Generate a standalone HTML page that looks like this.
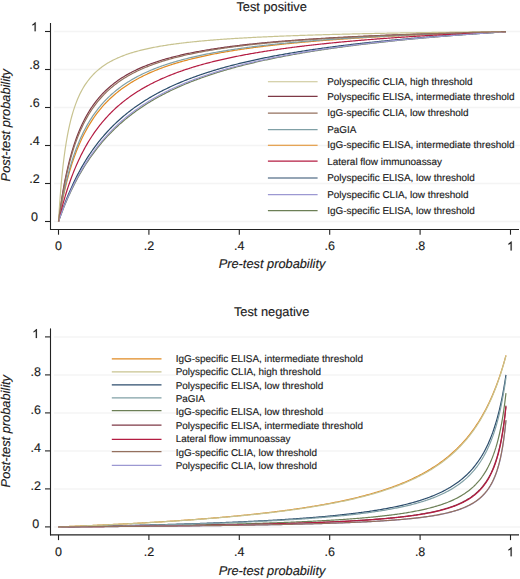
<!DOCTYPE html>
<html><head><meta charset="utf-8"><style>
html,body{margin:0;padding:0;background:#fff;width:520px;height:579px;overflow:hidden}
svg{display:block}
text{font-family:"Liberation Sans", sans-serif;text-rendering:geometricPrecision;fill:#1a1a1a;stroke:#1a1a1a;stroke-width:0.15px}
.t{font-size:12.5px}
.ti{font-size:12.8px}
.ax{font-size:12.8px;font-style:italic}
.lg{font-size:9.95px}
</style></head><body>
<svg width="520" height="579" viewBox="0 0 520 579">
<rect width="520" height="579" fill="#fff"/>
<line x1="54" x2="520" y1="221.50" y2="221.50" stroke="#f4f4f4" stroke-width="1.5"/>
<line x1="54" x2="520" y1="183.50" y2="183.50" stroke="#f4f4f4" stroke-width="1.5"/>
<line x1="54" x2="520" y1="145.50" y2="145.50" stroke="#f4f4f4" stroke-width="1.5"/>
<line x1="54" x2="520" y1="107.50" y2="107.50" stroke="#f4f4f4" stroke-width="1.5"/>
<line x1="54" x2="520" y1="69.50" y2="69.50" stroke="#f4f4f4" stroke-width="1.5"/>
<line x1="54" x2="520" y1="31.50" y2="31.50" stroke="#f4f4f4" stroke-width="1.5"/>
<path d="M58.50,221.50 L59.62,218.07 L60.74,214.75 L61.86,211.53 L62.97,208.41 L64.09,205.38 L65.21,202.43 L66.33,199.57 L67.45,196.79 L68.57,194.09 L69.69,191.46 L70.81,188.90 L71.92,186.41 L73.04,183.99 L74.16,181.62 L75.28,179.32 L76.40,177.08 L77.52,174.89 L78.64,172.76 L79.76,170.68 L80.87,168.65 L81.99,166.66 L83.11,164.73 L84.23,162.84 L85.35,160.99 L86.47,159.18 L87.59,157.42 L88.70,155.69 L89.82,154.00 L90.94,152.35 L92.06,150.73 L93.18,149.15 L94.30,147.60 L95.42,146.09 L96.54,144.60 L97.65,143.15 L98.77,141.72 L99.89,140.32 L101.01,138.95 L102.13,137.61 L103.25,136.29 L104.37,135.00 L105.49,133.73 L106.60,132.49 L107.72,131.27 L108.84,130.07 L109.96,128.90 L111.08,127.75 L112.20,126.61 L113.32,125.50 L114.44,124.41 L115.55,123.33 L116.67,122.28 L117.79,121.24 L118.91,120.22 L120.03,119.22 L121.15,118.23 L122.27,117.26 L123.38,116.31 L124.50,115.37 L125.62,114.45 L126.74,113.54 L127.86,112.65 L128.98,111.77 L130.10,110.91 L131.22,110.05 L132.33,109.22 L133.45,108.39 L134.57,107.58 L135.69,106.78 L136.81,105.99 L137.93,105.21 L139.05,104.45 L140.17,103.69 L141.28,102.95 L142.40,102.22 L143.52,101.50 L144.64,100.79 L145.76,100.08 L146.88,99.39 L148.00,98.71 L149.11,98.04 L150.23,97.38 L151.35,96.72 L152.47,96.08 L153.59,95.44 L154.71,94.81 L155.83,94.19 L156.95,93.58 L158.06,92.98 L159.18,92.38 L160.30,91.80 L161.42,91.22 L162.54,90.64 L163.66,90.08 L164.78,89.52 L165.90,88.97 L167.01,88.42 L168.13,87.89 L169.25,87.36 L170.37,86.83 L171.49,86.31 L172.61,85.80 L173.73,85.30 L174.84,84.80 L175.96,84.30 L177.08,83.81 L178.20,83.33 L179.32,82.86 L180.44,82.39 L181.56,81.92 L182.68,81.46 L183.79,81.01 L184.91,80.56 L186.03,80.11 L187.15,79.67 L188.27,79.24 L189.39,78.81 L190.51,78.38 L191.63,77.96 L192.74,77.55 L193.86,77.13 L194.98,76.73 L196.10,76.33 L197.22,75.93 L198.34,75.53 L199.46,75.14 L200.57,74.76 L201.69,74.38 L202.81,74.00 L203.93,73.62 L205.05,73.25 L206.17,72.89 L207.29,72.53 L208.41,72.17 L209.52,71.81 L210.64,71.46 L211.76,71.11 L212.88,70.77 L214.00,70.43 L215.12,70.09 L216.24,69.75 L217.36,69.42 L218.47,69.10 L219.59,68.77 L220.71,68.45 L221.83,68.13 L222.95,67.81 L224.07,67.50 L225.19,67.19 L226.31,66.89 L227.42,66.58 L228.54,66.28 L229.66,65.98 L230.78,65.69 L231.90,65.39 L233.02,65.10 L234.14,64.82 L235.25,64.53 L236.37,64.25 L237.49,63.97 L238.61,63.69 L239.73,63.42 L240.85,63.14 L241.97,62.87 L243.09,62.61 L244.20,62.34 L245.32,62.08 L246.44,61.82 L247.56,61.56 L248.68,61.30 L249.80,61.05 L250.92,60.80 L252.04,60.55 L253.15,60.30 L254.27,60.05 L255.39,59.81 L256.51,59.57 L257.63,59.33 L258.75,59.09 L259.87,58.86 L260.98,58.62 L262.10,58.39 L263.22,58.16 L264.34,57.93 L265.46,57.71 L266.58,57.48 L267.70,57.26 L268.82,57.04 L269.93,56.82 L271.05,56.60 L272.17,56.39 L273.29,56.17 L274.41,55.96 L275.53,55.75 L276.65,55.54 L277.77,55.33 L278.88,55.13 L280.00,54.92 L281.12,54.72 L282.24,54.52 L283.36,54.32 L284.48,54.12 L285.60,53.93 L286.71,53.73 L287.83,53.54 L288.95,53.35 L290.07,53.15 L291.19,52.97 L292.31,52.78 L293.43,52.59 L294.55,52.41 L295.66,52.22 L296.78,52.04 L297.90,51.86 L299.02,51.68 L300.14,51.50 L301.26,51.32 L302.38,51.15 L303.50,50.97 L304.61,50.80 L305.73,50.63 L306.85,50.45 L307.97,50.28 L309.09,50.12 L310.21,49.95 L311.33,49.78 L312.44,49.62 L313.56,49.45 L314.68,49.29 L315.80,49.13 L316.92,48.97 L318.04,48.81 L319.16,48.65 L320.28,48.49 L321.39,48.33 L322.51,48.18 L323.63,48.02 L324.75,47.87 L325.87,47.72 L326.99,47.57 L328.11,47.42 L329.23,47.27 L330.34,47.12 L331.46,46.97 L332.58,46.82 L333.70,46.68 L334.82,46.53 L335.94,46.39 L337.06,46.25 L338.18,46.10 L339.29,45.96 L340.41,45.82 L341.53,45.68 L342.65,45.55 L343.77,45.41 L344.89,45.27 L346.01,45.14 L347.12,45.00 L348.24,44.87 L349.36,44.73 L350.48,44.60 L351.60,44.47 L352.72,44.34 L353.84,44.21 L354.96,44.08 L356.07,43.95 L357.19,43.82 L358.31,43.70 L359.43,43.57 L360.55,43.45 L361.67,43.32 L362.79,43.20 L363.91,43.07 L365.02,42.95 L366.14,42.83 L367.26,42.71 L368.38,42.59 L369.50,42.47 L370.62,42.35 L371.74,42.23 L372.85,42.11 L373.97,42.00 L375.09,41.88 L376.21,41.77 L377.33,41.65 L378.45,41.54 L379.57,41.42 L380.69,41.31 L381.80,41.20 L382.92,41.09 L384.04,40.98 L385.16,40.87 L386.28,40.76 L387.40,40.65 L388.52,40.54 L389.64,40.43 L390.75,40.32 L391.87,40.22 L392.99,40.11 L394.11,40.01 L395.23,39.90 L396.35,39.80 L397.47,39.69 L398.58,39.59 L399.70,39.49 L400.82,39.38 L401.94,39.28 L403.06,39.18 L404.18,39.08 L405.30,38.98 L406.42,38.88 L407.53,38.78 L408.65,38.69 L409.77,38.59 L410.89,38.49 L412.01,38.39 L413.13,38.30 L414.25,38.20 L415.37,38.11 L416.48,38.01 L417.60,37.92 L418.72,37.82 L419.84,37.73 L420.96,37.64 L422.08,37.55 L423.20,37.45 L424.31,37.36 L425.43,37.27 L426.55,37.18 L427.67,37.09 L428.79,37.00 L429.91,36.91 L431.03,36.82 L432.15,36.74 L433.26,36.65 L434.38,36.56 L435.50,36.47 L436.62,36.39 L437.74,36.30 L438.86,36.22 L439.98,36.13 L441.10,36.05 L442.21,35.96 L443.33,35.88 L444.45,35.79 L445.57,35.71 L446.69,35.63 L447.81,35.55 L448.93,35.46 L450.04,35.38 L451.16,35.30 L452.28,35.22 L453.40,35.14 L454.52,35.06 L455.64,34.98 L456.76,34.90 L457.88,34.82 L458.99,34.75 L460.11,34.67 L461.23,34.59 L462.35,34.51 L463.47,34.44 L464.59,34.36 L465.71,34.28 L466.83,34.21 L467.94,34.13 L469.06,34.06 L470.18,33.98 L471.30,33.91 L472.42,33.83 L473.54,33.76 L474.66,33.69 L475.78,33.61 L476.89,33.54 L478.01,33.47 L479.13,33.40 L480.25,33.32 L481.37,33.25 L482.49,33.18 L483.61,33.11 L484.72,33.04 L485.84,32.97 L486.96,32.90 L488.08,32.83 L489.20,32.76 L490.32,32.69 L491.44,32.62 L492.56,32.56 L493.67,32.49 L494.79,32.42 L495.91,32.35 L497.03,32.29 L498.15,32.22 L499.27,32.15 L500.39,32.09 L501.51,32.02 L502.62,31.95 L503.74,31.89 L504.86,31.82 L505.98,31.76" fill="none" stroke="#2c4d6c" stroke-width="1.2"/>
<path d="M58.50,221.50 L59.62,212.95 L60.74,205.09 L61.86,197.86 L62.97,191.17 L64.09,184.96 L65.21,179.20 L66.33,173.82 L67.45,168.80 L68.57,164.10 L69.69,159.69 L70.81,155.54 L71.92,151.63 L73.04,147.95 L74.16,144.46 L75.28,141.16 L76.40,138.04 L77.52,135.07 L78.64,132.25 L79.76,129.56 L80.87,127.00 L81.99,124.56 L83.11,122.23 L84.23,120.00 L85.35,117.87 L86.47,115.83 L87.59,113.87 L88.70,111.99 L89.82,110.18 L90.94,108.45 L92.06,106.78 L93.18,105.17 L94.30,103.63 L95.42,102.14 L96.54,100.70 L97.65,99.31 L98.77,97.97 L99.89,96.67 L101.01,95.42 L102.13,94.21 L103.25,93.03 L104.37,91.90 L105.49,90.80 L106.60,89.73 L107.72,88.70 L108.84,87.69 L109.96,86.72 L111.08,85.77 L112.20,84.85 L113.32,83.95 L114.44,83.08 L115.55,82.24 L116.67,81.41 L117.79,80.61 L118.91,79.83 L120.03,79.07 L121.15,78.33 L122.27,77.61 L123.38,76.90 L124.50,76.22 L125.62,75.55 L126.74,74.89 L127.86,74.25 L128.98,73.63 L130.10,73.02 L131.22,72.43 L132.33,71.84 L133.45,71.27 L134.57,70.72 L135.69,70.17 L136.81,69.64 L137.93,69.12 L139.05,68.61 L140.17,68.11 L141.28,67.62 L142.40,67.14 L143.52,66.67 L144.64,66.21 L145.76,65.76 L146.88,65.32 L148.00,64.89 L149.11,64.46 L150.23,64.05 L151.35,63.64 L152.47,63.24 L153.59,62.84 L154.71,62.46 L155.83,62.08 L156.95,61.70 L158.06,61.34 L159.18,60.98 L160.30,60.63 L161.42,60.28 L162.54,59.94 L163.66,59.60 L164.78,59.28 L165.90,58.95 L167.01,58.63 L168.13,58.32 L169.25,58.01 L170.37,57.71 L171.49,57.41 L172.61,57.12 L173.73,56.83 L174.84,56.55 L175.96,56.27 L177.08,55.99 L178.20,55.72 L179.32,55.46 L180.44,55.19 L181.56,54.93 L182.68,54.68 L183.79,54.43 L184.91,54.18 L186.03,53.94 L187.15,53.70 L188.27,53.46 L189.39,53.23 L190.51,53.00 L191.63,52.77 L192.74,52.55 L193.86,52.33 L194.98,52.11 L196.10,51.90 L197.22,51.68 L198.34,51.48 L199.46,51.27 L200.57,51.07 L201.69,50.87 L202.81,50.67 L203.93,50.47 L205.05,50.28 L206.17,50.09 L207.29,49.90 L208.41,49.72 L209.52,49.54 L210.64,49.36 L211.76,49.18 L212.88,49.00 L214.00,48.83 L215.12,48.66 L216.24,48.49 L217.36,48.32 L218.47,48.15 L219.59,47.99 L220.71,47.83 L221.83,47.67 L222.95,47.51 L224.07,47.36 L225.19,47.20 L226.31,47.05 L227.42,46.90 L228.54,46.75 L229.66,46.60 L230.78,46.46 L231.90,46.31 L233.02,46.17 L234.14,46.03 L235.25,45.89 L236.37,45.76 L237.49,45.62 L238.61,45.48 L239.73,45.35 L240.85,45.22 L241.97,45.09 L243.09,44.96 L244.20,44.83 L245.32,44.71 L246.44,44.58 L247.56,44.46 L248.68,44.34 L249.80,44.22 L250.92,44.10 L252.04,43.98 L253.15,43.86 L254.27,43.74 L255.39,43.63 L256.51,43.52 L257.63,43.40 L258.75,43.29 L259.87,43.18 L260.98,43.07 L262.10,42.96 L263.22,42.86 L264.34,42.75 L265.46,42.65 L266.58,42.54 L267.70,42.44 L268.82,42.34 L269.93,42.23 L271.05,42.13 L272.17,42.04 L273.29,41.94 L274.41,41.84 L275.53,41.74 L276.65,41.65 L277.77,41.55 L278.88,41.46 L280.00,41.37 L281.12,41.27 L282.24,41.18 L283.36,41.09 L284.48,41.00 L285.60,40.91 L286.71,40.82 L287.83,40.74 L288.95,40.65 L290.07,40.56 L291.19,40.48 L292.31,40.40 L293.43,40.31 L294.55,40.23 L295.66,40.15 L296.78,40.06 L297.90,39.98 L299.02,39.90 L300.14,39.82 L301.26,39.75 L302.38,39.67 L303.50,39.59 L304.61,39.51 L305.73,39.44 L306.85,39.36 L307.97,39.29 L309.09,39.21 L310.21,39.14 L311.33,39.06 L312.44,38.99 L313.56,38.92 L314.68,38.85 L315.80,38.78 L316.92,38.71 L318.04,38.64 L319.16,38.57 L320.28,38.50 L321.39,38.43 L322.51,38.36 L323.63,38.30 L324.75,38.23 L325.87,38.16 L326.99,38.10 L328.11,38.03 L329.23,37.97 L330.34,37.90 L331.46,37.84 L332.58,37.78 L333.70,37.71 L334.82,37.65 L335.94,37.59 L337.06,37.53 L338.18,37.47 L339.29,37.41 L340.41,37.35 L341.53,37.29 L342.65,37.23 L343.77,37.17 L344.89,37.11 L346.01,37.05 L347.12,37.00 L348.24,36.94 L349.36,36.88 L350.48,36.83 L351.60,36.77 L352.72,36.72 L353.84,36.66 L354.96,36.61 L356.07,36.55 L357.19,36.50 L358.31,36.44 L359.43,36.39 L360.55,36.34 L361.67,36.29 L362.79,36.23 L363.91,36.18 L365.02,36.13 L366.14,36.08 L367.26,36.03 L368.38,35.98 L369.50,35.93 L370.62,35.88 L371.74,35.83 L372.85,35.78 L373.97,35.73 L375.09,35.68 L376.21,35.63 L377.33,35.59 L378.45,35.54 L379.57,35.49 L380.69,35.45 L381.80,35.40 L382.92,35.35 L384.04,35.31 L385.16,35.26 L386.28,35.22 L387.40,35.17 L388.52,35.13 L389.64,35.08 L390.75,35.04 L391.87,34.99 L392.99,34.95 L394.11,34.91 L395.23,34.86 L396.35,34.82 L397.47,34.78 L398.58,34.73 L399.70,34.69 L400.82,34.65 L401.94,34.61 L403.06,34.57 L404.18,34.53 L405.30,34.49 L406.42,34.45 L407.53,34.40 L408.65,34.36 L409.77,34.32 L410.89,34.29 L412.01,34.25 L413.13,34.21 L414.25,34.17 L415.37,34.13 L416.48,34.09 L417.60,34.05 L418.72,34.01 L419.84,33.98 L420.96,33.94 L422.08,33.90 L423.20,33.86 L424.31,33.83 L425.43,33.79 L426.55,33.75 L427.67,33.72 L428.79,33.68 L429.91,33.65 L431.03,33.61 L432.15,33.57 L433.26,33.54 L434.38,33.50 L435.50,33.47 L436.62,33.43 L437.74,33.40 L438.86,33.37 L439.98,33.33 L441.10,33.30 L442.21,33.26 L443.33,33.23 L444.45,33.20 L445.57,33.16 L446.69,33.13 L447.81,33.10 L448.93,33.06 L450.04,33.03 L451.16,33.00 L452.28,32.97 L453.40,32.93 L454.52,32.90 L455.64,32.87 L456.76,32.84 L457.88,32.81 L458.99,32.78 L460.11,32.75 L461.23,32.72 L462.35,32.68 L463.47,32.65 L464.59,32.62 L465.71,32.59 L466.83,32.56 L467.94,32.53 L469.06,32.50 L470.18,32.47 L471.30,32.44 L472.42,32.42 L473.54,32.39 L474.66,32.36 L475.78,32.33 L476.89,32.30 L478.01,32.27 L479.13,32.24 L480.25,32.21 L481.37,32.19 L482.49,32.16 L483.61,32.13 L484.72,32.10 L485.84,32.08 L486.96,32.05 L488.08,32.02 L489.20,31.99 L490.32,31.97 L491.44,31.94 L492.56,31.91 L493.67,31.89 L494.79,31.86 L495.91,31.83 L497.03,31.81 L498.15,31.78 L499.27,31.75 L500.39,31.73 L501.51,31.70 L502.62,31.68 L503.74,31.65 L504.86,31.63 L505.98,31.60" fill="none" stroke="#7e3846" stroke-width="1.2"/>
<path d="M58.50,221.50 L59.62,218.39 L60.74,215.37 L61.86,212.43 L62.97,209.57 L64.09,206.78 L65.21,204.07 L66.33,201.43 L67.45,198.85 L68.57,196.34 L69.69,193.89 L70.81,191.50 L71.92,189.17 L73.04,186.89 L74.16,184.67 L75.28,182.49 L76.40,180.37 L77.52,178.30 L78.64,176.27 L79.76,174.29 L80.87,172.35 L81.99,170.46 L83.11,168.60 L84.23,166.79 L85.35,165.01 L86.47,163.27 L87.59,161.57 L88.70,159.90 L89.82,158.26 L90.94,156.66 L92.06,155.09 L93.18,153.55 L94.30,152.04 L95.42,150.56 L96.54,149.10 L97.65,147.68 L98.77,146.28 L99.89,144.91 L101.01,143.56 L102.13,142.23 L103.25,140.94 L104.37,139.66 L105.49,138.41 L106.60,137.17 L107.72,135.96 L108.84,134.78 L109.96,133.61 L111.08,132.46 L112.20,131.33 L113.32,130.22 L114.44,129.13 L115.55,128.05 L116.67,126.99 L117.79,125.95 L118.91,124.93 L120.03,123.92 L121.15,122.93 L122.27,121.96 L123.38,121.00 L124.50,120.05 L125.62,119.12 L126.74,118.20 L127.86,117.30 L128.98,116.41 L130.10,115.53 L131.22,114.67 L132.33,113.82 L133.45,112.98 L134.57,112.15 L135.69,111.34 L136.81,110.53 L137.93,109.74 L139.05,108.96 L140.17,108.19 L141.28,107.43 L142.40,106.68 L143.52,105.94 L144.64,105.22 L145.76,104.50 L146.88,103.79 L148.00,103.09 L149.11,102.40 L150.23,101.71 L151.35,101.04 L152.47,100.38 L153.59,99.72 L154.71,99.07 L155.83,98.44 L156.95,97.80 L158.06,97.18 L159.18,96.57 L160.30,95.96 L161.42,95.36 L162.54,94.76 L163.66,94.18 L164.78,93.60 L165.90,93.03 L167.01,92.46 L168.13,91.90 L169.25,91.35 L170.37,90.81 L171.49,90.27 L172.61,89.74 L173.73,89.21 L174.84,88.69 L175.96,88.17 L177.08,87.66 L178.20,87.16 L179.32,86.66 L180.44,86.17 L181.56,85.69 L182.68,85.20 L183.79,84.73 L184.91,84.26 L186.03,83.79 L187.15,83.33 L188.27,82.88 L189.39,82.43 L190.51,81.98 L191.63,81.54 L192.74,81.10 L193.86,80.67 L194.98,80.24 L196.10,79.82 L197.22,79.40 L198.34,78.98 L199.46,78.57 L200.57,78.17 L201.69,77.76 L202.81,77.37 L203.93,76.97 L205.05,76.58 L206.17,76.20 L207.29,75.81 L208.41,75.43 L209.52,75.06 L210.64,74.69 L211.76,74.32 L212.88,73.95 L214.00,73.59 L215.12,73.24 L216.24,72.88 L217.36,72.53 L218.47,72.18 L219.59,71.84 L220.71,71.50 L221.83,71.16 L222.95,70.82 L224.07,70.49 L225.19,70.16 L226.31,69.84 L227.42,69.51 L228.54,69.19 L229.66,68.88 L230.78,68.56 L231.90,68.25 L233.02,67.94 L234.14,67.64 L235.25,67.33 L236.37,67.03 L237.49,66.73 L238.61,66.44 L239.73,66.14 L240.85,65.85 L241.97,65.57 L243.09,65.28 L244.20,65.00 L245.32,64.72 L246.44,64.44 L247.56,64.16 L248.68,63.89 L249.80,63.61 L250.92,63.35 L252.04,63.08 L253.15,62.81 L254.27,62.55 L255.39,62.29 L256.51,62.03 L257.63,61.77 L258.75,61.52 L259.87,61.27 L260.98,61.02 L262.10,60.77 L263.22,60.52 L264.34,60.28 L265.46,60.03 L266.58,59.79 L267.70,59.55 L268.82,59.32 L269.93,59.08 L271.05,58.85 L272.17,58.62 L273.29,58.39 L274.41,58.16 L275.53,57.93 L276.65,57.71 L277.77,57.48 L278.88,57.26 L280.00,57.04 L281.12,56.82 L282.24,56.61 L283.36,56.39 L284.48,56.18 L285.60,55.97 L286.71,55.76 L287.83,55.55 L288.95,55.34 L290.07,55.14 L291.19,54.93 L292.31,54.73 L293.43,54.53 L294.55,54.33 L295.66,54.13 L296.78,53.93 L297.90,53.74 L299.02,53.54 L300.14,53.35 L301.26,53.16 L302.38,52.97 L303.50,52.78 L304.61,52.59 L305.73,52.40 L306.85,52.22 L307.97,52.03 L309.09,51.85 L310.21,51.67 L311.33,51.49 L312.44,51.31 L313.56,51.13 L314.68,50.96 L315.80,50.78 L316.92,50.61 L318.04,50.43 L319.16,50.26 L320.28,50.09 L321.39,49.92 L322.51,49.75 L323.63,49.58 L324.75,49.42 L325.87,49.25 L326.99,49.09 L328.11,48.93 L329.23,48.76 L330.34,48.60 L331.46,48.44 L332.58,48.28 L333.70,48.12 L334.82,47.97 L335.94,47.81 L337.06,47.66 L338.18,47.50 L339.29,47.35 L340.41,47.20 L341.53,47.04 L342.65,46.89 L343.77,46.74 L344.89,46.60 L346.01,46.45 L347.12,46.30 L348.24,46.16 L349.36,46.01 L350.48,45.87 L351.60,45.72 L352.72,45.58 L353.84,45.44 L354.96,45.30 L356.07,45.16 L357.19,45.02 L358.31,44.88 L359.43,44.74 L360.55,44.61 L361.67,44.47 L362.79,44.34 L363.91,44.20 L365.02,44.07 L366.14,43.94 L367.26,43.80 L368.38,43.67 L369.50,43.54 L370.62,43.41 L371.74,43.28 L372.85,43.16 L373.97,43.03 L375.09,42.90 L376.21,42.78 L377.33,42.65 L378.45,42.53 L379.57,42.40 L380.69,42.28 L381.80,42.16 L382.92,42.03 L384.04,41.91 L385.16,41.79 L386.28,41.67 L387.40,41.55 L388.52,41.43 L389.64,41.32 L390.75,41.20 L391.87,41.08 L392.99,40.97 L394.11,40.85 L395.23,40.74 L396.35,40.62 L397.47,40.51 L398.58,40.40 L399.70,40.28 L400.82,40.17 L401.94,40.06 L403.06,39.95 L404.18,39.84 L405.30,39.73 L406.42,39.62 L407.53,39.51 L408.65,39.41 L409.77,39.30 L410.89,39.19 L412.01,39.09 L413.13,38.98 L414.25,38.87 L415.37,38.77 L416.48,38.67 L417.60,38.56 L418.72,38.46 L419.84,38.36 L420.96,38.26 L422.08,38.16 L423.20,38.05 L424.31,37.95 L425.43,37.85 L426.55,37.76 L427.67,37.66 L428.79,37.56 L429.91,37.46 L431.03,37.36 L432.15,37.27 L433.26,37.17 L434.38,37.07 L435.50,36.98 L436.62,36.88 L437.74,36.79 L438.86,36.70 L439.98,36.60 L441.10,36.51 L442.21,36.42 L443.33,36.32 L444.45,36.23 L445.57,36.14 L446.69,36.05 L447.81,35.96 L448.93,35.87 L450.04,35.78 L451.16,35.69 L452.28,35.60 L453.40,35.51 L454.52,35.43 L455.64,35.34 L456.76,35.25 L457.88,35.16 L458.99,35.08 L460.11,34.99 L461.23,34.91 L462.35,34.82 L463.47,34.74 L464.59,34.65 L465.71,34.57 L466.83,34.49 L467.94,34.40 L469.06,34.32 L470.18,34.24 L471.30,34.16 L472.42,34.07 L473.54,33.99 L474.66,33.91 L475.78,33.83 L476.89,33.75 L478.01,33.67 L479.13,33.59 L480.25,33.51 L481.37,33.43 L482.49,33.36 L483.61,33.28 L484.72,33.20 L485.84,33.12 L486.96,33.05 L488.08,32.97 L489.20,32.89 L490.32,32.82 L491.44,32.74 L492.56,32.67 L493.67,32.59 L494.79,32.52 L495.91,32.44 L497.03,32.37 L498.15,32.29 L499.27,32.22 L500.39,32.15 L501.51,32.07 L502.62,32.00 L503.74,31.93 L504.86,31.86 L505.98,31.79" fill="none" stroke="#6c7f56" stroke-width="1.2"/>
<path d="M58.50,221.50 L59.62,215.03 L60.74,208.96 L61.86,203.26 L62.97,197.88 L64.09,192.80 L65.21,188.00 L66.33,183.46 L67.45,179.15 L68.57,175.06 L69.69,171.17 L70.81,167.47 L71.92,163.94 L73.04,160.57 L74.16,157.35 L75.28,154.28 L76.40,151.34 L77.52,148.52 L78.64,145.81 L79.76,143.22 L80.87,140.73 L81.99,138.33 L83.11,136.03 L84.23,133.81 L85.35,131.67 L86.47,129.61 L87.59,127.62 L88.70,125.71 L89.82,123.85 L90.94,122.06 L92.06,120.33 L93.18,118.65 L94.30,117.03 L95.42,115.46 L96.54,113.94 L97.65,112.46 L98.77,111.03 L99.89,109.64 L101.01,108.29 L102.13,106.98 L103.25,105.71 L104.37,104.47 L105.49,103.27 L106.60,102.10 L107.72,100.96 L108.84,99.85 L109.96,98.77 L111.08,97.72 L112.20,96.69 L113.32,95.69 L114.44,94.72 L115.55,93.77 L116.67,92.84 L117.79,91.93 L118.91,91.05 L120.03,90.19 L121.15,89.34 L122.27,88.52 L123.38,87.71 L124.50,86.92 L125.62,86.15 L126.74,85.40 L127.86,84.66 L128.98,83.94 L130.10,83.23 L131.22,82.54 L132.33,81.87 L133.45,81.20 L134.57,80.55 L135.69,79.91 L136.81,79.29 L137.93,78.68 L139.05,78.08 L140.17,77.49 L141.28,76.91 L142.40,76.35 L143.52,75.79 L144.64,75.25 L145.76,74.71 L146.88,74.18 L148.00,73.67 L149.11,73.16 L150.23,72.66 L151.35,72.17 L152.47,71.69 L153.59,71.22 L154.71,70.76 L155.83,70.30 L156.95,69.85 L158.06,69.41 L159.18,68.98 L160.30,68.55 L161.42,68.13 L162.54,67.72 L163.66,67.31 L164.78,66.91 L165.90,66.52 L167.01,66.13 L168.13,65.75 L169.25,65.38 L170.37,65.01 L171.49,64.64 L172.61,64.28 L173.73,63.93 L174.84,63.58 L175.96,63.24 L177.08,62.90 L178.20,62.57 L179.32,62.24 L180.44,61.92 L181.56,61.60 L182.68,61.29 L183.79,60.98 L184.91,60.67 L186.03,60.37 L187.15,60.07 L188.27,59.78 L189.39,59.49 L190.51,59.21 L191.63,58.92 L192.74,58.65 L193.86,58.37 L194.98,58.10 L196.10,57.83 L197.22,57.57 L198.34,57.31 L199.46,57.05 L200.57,56.80 L201.69,56.55 L202.81,56.30 L203.93,56.06 L205.05,55.82 L206.17,55.58 L207.29,55.35 L208.41,55.11 L209.52,54.88 L210.64,54.66 L211.76,54.43 L212.88,54.21 L214.00,53.99 L215.12,53.78 L216.24,53.56 L217.36,53.35 L218.47,53.14 L219.59,52.94 L220.71,52.73 L221.83,52.53 L222.95,52.33 L224.07,52.13 L225.19,51.94 L226.31,51.75 L227.42,51.56 L228.54,51.37 L229.66,51.18 L230.78,51.00 L231.90,50.81 L233.02,50.63 L234.14,50.45 L235.25,50.28 L236.37,50.10 L237.49,49.93 L238.61,49.76 L239.73,49.59 L240.85,49.42 L241.97,49.25 L243.09,49.09 L244.20,48.93 L245.32,48.77 L246.44,48.61 L247.56,48.45 L248.68,48.29 L249.80,48.14 L250.92,47.98 L252.04,47.83 L253.15,47.68 L254.27,47.53 L255.39,47.39 L256.51,47.24 L257.63,47.10 L258.75,46.95 L259.87,46.81 L260.98,46.67 L262.10,46.53 L263.22,46.39 L264.34,46.26 L265.46,46.12 L266.58,45.99 L267.70,45.86 L268.82,45.72 L269.93,45.59 L271.05,45.47 L272.17,45.34 L273.29,45.21 L274.41,45.08 L275.53,44.96 L276.65,44.84 L277.77,44.71 L278.88,44.59 L280.00,44.47 L281.12,44.35 L282.24,44.24 L283.36,44.12 L284.48,44.00 L285.60,43.89 L286.71,43.77 L287.83,43.66 L288.95,43.55 L290.07,43.44 L291.19,43.33 L292.31,43.22 L293.43,43.11 L294.55,43.00 L295.66,42.89 L296.78,42.79 L297.90,42.68 L299.02,42.58 L300.14,42.48 L301.26,42.37 L302.38,42.27 L303.50,42.17 L304.61,42.07 L305.73,41.97 L306.85,41.87 L307.97,41.78 L309.09,41.68 L310.21,41.58 L311.33,41.49 L312.44,41.39 L313.56,41.30 L314.68,41.21 L315.80,41.11 L316.92,41.02 L318.04,40.93 L319.16,40.84 L320.28,40.75 L321.39,40.66 L322.51,40.57 L323.63,40.48 L324.75,40.40 L325.87,40.31 L326.99,40.23 L328.11,40.14 L329.23,40.06 L330.34,39.97 L331.46,39.89 L332.58,39.81 L333.70,39.72 L334.82,39.64 L335.94,39.56 L337.06,39.48 L338.18,39.40 L339.29,39.32 L340.41,39.24 L341.53,39.17 L342.65,39.09 L343.77,39.01 L344.89,38.93 L346.01,38.86 L347.12,38.78 L348.24,38.71 L349.36,38.63 L350.48,38.56 L351.60,38.49 L352.72,38.41 L353.84,38.34 L354.96,38.27 L356.07,38.20 L357.19,38.13 L358.31,38.06 L359.43,37.99 L360.55,37.92 L361.67,37.85 L362.79,37.78 L363.91,37.71 L365.02,37.64 L366.14,37.58 L367.26,37.51 L368.38,37.44 L369.50,37.38 L370.62,37.31 L371.74,37.25 L372.85,37.18 L373.97,37.12 L375.09,37.06 L376.21,36.99 L377.33,36.93 L378.45,36.87 L379.57,36.80 L380.69,36.74 L381.80,36.68 L382.92,36.62 L384.04,36.56 L385.16,36.50 L386.28,36.44 L387.40,36.38 L388.52,36.32 L389.64,36.26 L390.75,36.20 L391.87,36.14 L392.99,36.09 L394.11,36.03 L395.23,35.97 L396.35,35.92 L397.47,35.86 L398.58,35.80 L399.70,35.75 L400.82,35.69 L401.94,35.64 L403.06,35.58 L404.18,35.53 L405.30,35.47 L406.42,35.42 L407.53,35.37 L408.65,35.31 L409.77,35.26 L410.89,35.21 L412.01,35.16 L413.13,35.10 L414.25,35.05 L415.37,35.00 L416.48,34.95 L417.60,34.90 L418.72,34.85 L419.84,34.80 L420.96,34.75 L422.08,34.70 L423.20,34.65 L424.31,34.60 L425.43,34.55 L426.55,34.50 L427.67,34.46 L428.79,34.41 L429.91,34.36 L431.03,34.31 L432.15,34.27 L433.26,34.22 L434.38,34.17 L435.50,34.13 L436.62,34.08 L437.74,34.03 L438.86,33.99 L439.98,33.94 L441.10,33.90 L442.21,33.85 L443.33,33.81 L444.45,33.76 L445.57,33.72 L446.69,33.67 L447.81,33.63 L448.93,33.59 L450.04,33.54 L451.16,33.50 L452.28,33.46 L453.40,33.42 L454.52,33.37 L455.64,33.33 L456.76,33.29 L457.88,33.25 L458.99,33.21 L460.11,33.16 L461.23,33.12 L462.35,33.08 L463.47,33.04 L464.59,33.00 L465.71,32.96 L466.83,32.92 L467.94,32.88 L469.06,32.84 L470.18,32.80 L471.30,32.76 L472.42,32.72 L473.54,32.68 L474.66,32.65 L475.78,32.61 L476.89,32.57 L478.01,32.53 L479.13,32.49 L480.25,32.45 L481.37,32.42 L482.49,32.38 L483.61,32.34 L484.72,32.31 L485.84,32.27 L486.96,32.23 L488.08,32.20 L489.20,32.16 L490.32,32.12 L491.44,32.09 L492.56,32.05 L493.67,32.02 L494.79,31.98 L495.91,31.95 L497.03,31.91 L498.15,31.88 L499.27,31.84 L500.39,31.81 L501.51,31.77 L502.62,31.74 L503.74,31.70 L504.86,31.67 L505.98,31.64" fill="none" stroke="#e08a22" stroke-width="1.2"/>
<path d="M58.50,221.50 L59.62,214.59 L60.74,208.14 L61.86,202.10 L62.97,196.43 L64.09,191.10 L65.21,186.08 L66.33,181.34 L67.45,176.87 L68.57,172.63 L69.69,168.61 L70.81,164.80 L71.92,161.17 L73.04,157.72 L74.16,154.43 L75.28,151.29 L76.40,148.30 L77.52,145.43 L78.64,142.69 L79.76,140.07 L80.87,137.55 L81.99,135.14 L83.11,132.82 L84.23,130.59 L85.35,128.44 L86.47,126.38 L87.59,124.39 L88.70,122.48 L89.82,120.63 L90.94,118.84 L92.06,117.12 L93.18,115.45 L94.30,113.84 L95.42,112.29 L96.54,110.78 L97.65,109.32 L98.77,107.90 L99.89,106.53 L101.01,105.20 L102.13,103.91 L103.25,102.66 L104.37,101.44 L105.49,100.26 L106.60,99.11 L107.72,97.99 L108.84,96.90 L109.96,95.84 L111.08,94.81 L112.20,93.81 L113.32,92.83 L114.44,91.88 L115.55,90.95 L116.67,90.05 L117.79,89.17 L118.91,88.30 L120.03,87.46 L121.15,86.64 L122.27,85.84 L123.38,85.06 L124.50,84.29 L125.62,83.54 L126.74,82.81 L127.86,82.10 L128.98,81.40 L130.10,80.71 L131.22,80.04 L132.33,79.39 L133.45,78.74 L134.57,78.12 L135.69,77.50 L136.81,76.90 L137.93,76.31 L139.05,75.73 L140.17,75.16 L141.28,74.60 L142.40,74.06 L143.52,73.52 L144.64,73.00 L145.76,72.48 L146.88,71.97 L148.00,71.48 L149.11,70.99 L150.23,70.51 L151.35,70.04 L152.47,69.58 L153.59,69.13 L154.71,68.68 L155.83,68.24 L156.95,67.81 L158.06,67.39 L159.18,66.97 L160.30,66.56 L161.42,66.16 L162.54,65.77 L163.66,65.38 L164.78,64.99 L165.90,64.62 L167.01,64.25 L168.13,63.88 L169.25,63.52 L170.37,63.17 L171.49,62.82 L172.61,62.48 L173.73,62.14 L174.84,61.81 L175.96,61.48 L177.08,61.16 L178.20,60.84 L179.32,60.53 L180.44,60.22 L181.56,59.92 L182.68,59.62 L183.79,59.32 L184.91,59.03 L186.03,58.74 L187.15,58.46 L188.27,58.18 L189.39,57.90 L190.51,57.63 L191.63,57.37 L192.74,57.10 L193.86,56.84 L194.98,56.58 L196.10,56.33 L197.22,56.08 L198.34,55.83 L199.46,55.59 L200.57,55.35 L201.69,55.11 L202.81,54.87 L203.93,54.64 L205.05,54.41 L206.17,54.19 L207.29,53.96 L208.41,53.74 L209.52,53.52 L210.64,53.31 L211.76,53.10 L212.88,52.89 L214.00,52.68 L215.12,52.47 L216.24,52.27 L217.36,52.07 L218.47,51.87 L219.59,51.68 L220.71,51.48 L221.83,51.29 L222.95,51.10 L224.07,50.92 L225.19,50.73 L226.31,50.55 L227.42,50.37 L228.54,50.19 L229.66,50.01 L230.78,49.84 L231.90,49.66 L233.02,49.49 L234.14,49.32 L235.25,49.16 L236.37,48.99 L237.49,48.83 L238.61,48.66 L239.73,48.50 L240.85,48.35 L241.97,48.19 L243.09,48.03 L244.20,47.88 L245.32,47.73 L246.44,47.58 L247.56,47.43 L248.68,47.28 L249.80,47.13 L250.92,46.99 L252.04,46.85 L253.15,46.70 L254.27,46.56 L255.39,46.42 L256.51,46.29 L257.63,46.15 L258.75,46.01 L259.87,45.88 L260.98,45.75 L262.10,45.62 L263.22,45.49 L264.34,45.36 L265.46,45.23 L266.58,45.10 L267.70,44.98 L268.82,44.85 L269.93,44.73 L271.05,44.61 L272.17,44.49 L273.29,44.37 L274.41,44.25 L275.53,44.13 L276.65,44.02 L277.77,43.90 L278.88,43.79 L280.00,43.67 L281.12,43.56 L282.24,43.45 L283.36,43.34 L284.48,43.23 L285.60,43.12 L286.71,43.01 L287.83,42.91 L288.95,42.80 L290.07,42.70 L291.19,42.59 L292.31,42.49 L293.43,42.39 L294.55,42.29 L295.66,42.19 L296.78,42.09 L297.90,41.99 L299.02,41.89 L300.14,41.79 L301.26,41.70 L302.38,41.60 L303.50,41.51 L304.61,41.41 L305.73,41.32 L306.85,41.23 L307.97,41.13 L309.09,41.04 L310.21,40.95 L311.33,40.86 L312.44,40.77 L313.56,40.68 L314.68,40.60 L315.80,40.51 L316.92,40.42 L318.04,40.34 L319.16,40.25 L320.28,40.17 L321.39,40.09 L322.51,40.00 L323.63,39.92 L324.75,39.84 L325.87,39.76 L326.99,39.68 L328.11,39.60 L329.23,39.52 L330.34,39.44 L331.46,39.36 L332.58,39.28 L333.70,39.20 L334.82,39.13 L335.94,39.05 L337.06,38.98 L338.18,38.90 L339.29,38.83 L340.41,38.75 L341.53,38.68 L342.65,38.61 L343.77,38.54 L344.89,38.46 L346.01,38.39 L347.12,38.32 L348.24,38.25 L349.36,38.18 L350.48,38.11 L351.60,38.04 L352.72,37.97 L353.84,37.91 L354.96,37.84 L356.07,37.77 L357.19,37.71 L358.31,37.64 L359.43,37.57 L360.55,37.51 L361.67,37.44 L362.79,37.38 L363.91,37.32 L365.02,37.25 L366.14,37.19 L367.26,37.13 L368.38,37.06 L369.50,37.00 L370.62,36.94 L371.74,36.88 L372.85,36.82 L373.97,36.76 L375.09,36.70 L376.21,36.64 L377.33,36.58 L378.45,36.52 L379.57,36.46 L380.69,36.41 L381.80,36.35 L382.92,36.29 L384.04,36.23 L385.16,36.18 L386.28,36.12 L387.40,36.07 L388.52,36.01 L389.64,35.96 L390.75,35.90 L391.87,35.85 L392.99,35.79 L394.11,35.74 L395.23,35.68 L396.35,35.63 L397.47,35.58 L398.58,35.53 L399.70,35.47 L400.82,35.42 L401.94,35.37 L403.06,35.32 L404.18,35.27 L405.30,35.22 L406.42,35.17 L407.53,35.12 L408.65,35.07 L409.77,35.02 L410.89,34.97 L412.01,34.92 L413.13,34.87 L414.25,34.82 L415.37,34.77 L416.48,34.73 L417.60,34.68 L418.72,34.63 L419.84,34.59 L420.96,34.54 L422.08,34.49 L423.20,34.45 L424.31,34.40 L425.43,34.35 L426.55,34.31 L427.67,34.26 L428.79,34.22 L429.91,34.17 L431.03,34.13 L432.15,34.09 L433.26,34.04 L434.38,34.00 L435.50,33.95 L436.62,33.91 L437.74,33.87 L438.86,33.83 L439.98,33.78 L441.10,33.74 L442.21,33.70 L443.33,33.66 L444.45,33.62 L445.57,33.57 L446.69,33.53 L447.81,33.49 L448.93,33.45 L450.04,33.41 L451.16,33.37 L452.28,33.33 L453.40,33.29 L454.52,33.25 L455.64,33.21 L456.76,33.17 L457.88,33.13 L458.99,33.09 L460.11,33.06 L461.23,33.02 L462.35,32.98 L463.47,32.94 L464.59,32.90 L465.71,32.87 L466.83,32.83 L467.94,32.79 L469.06,32.75 L470.18,32.72 L471.30,32.68 L472.42,32.64 L473.54,32.61 L474.66,32.57 L475.78,32.53 L476.89,32.50 L478.01,32.46 L479.13,32.43 L480.25,32.39 L481.37,32.36 L482.49,32.32 L483.61,32.29 L484.72,32.25 L485.84,32.22 L486.96,32.18 L488.08,32.15 L489.20,32.12 L490.32,32.08 L491.44,32.05 L492.56,32.02 L493.67,31.98 L494.79,31.95 L495.91,31.92 L497.03,31.88 L498.15,31.85 L499.27,31.82 L500.39,31.79 L501.51,31.75 L502.62,31.72 L503.74,31.69 L504.86,31.66 L505.98,31.63" fill="none" stroke="#80a0a6" stroke-width="1.2"/>
<path d="M58.50,221.50 L59.62,216.81 L60.74,212.32 L61.86,208.03 L62.97,203.92 L64.09,199.97 L65.21,196.18 L66.33,192.54 L67.45,189.04 L68.57,185.67 L69.69,182.43 L70.81,179.31 L71.92,176.29 L73.04,173.39 L74.16,170.58 L75.28,167.87 L76.40,165.25 L77.52,162.71 L78.64,160.26 L79.76,157.89 L80.87,155.59 L81.99,153.36 L83.11,151.19 L84.23,149.10 L85.35,147.06 L86.47,145.09 L87.59,143.17 L88.70,141.30 L89.82,139.49 L90.94,137.72 L92.06,136.01 L93.18,134.33 L94.30,132.71 L95.42,131.12 L96.54,129.58 L97.65,128.08 L98.77,126.61 L99.89,125.18 L101.01,123.78 L102.13,122.42 L103.25,121.09 L104.37,119.79 L105.49,118.52 L106.60,117.29 L107.72,116.07 L108.84,114.89 L109.96,113.73 L111.08,112.60 L112.20,111.50 L113.32,110.41 L114.44,109.35 L115.55,108.31 L116.67,107.30 L117.79,106.30 L118.91,105.33 L120.03,104.37 L121.15,103.44 L122.27,102.52 L123.38,101.62 L124.50,100.74 L125.62,99.87 L126.74,99.02 L127.86,98.19 L128.98,97.38 L130.10,96.57 L131.22,95.79 L132.33,95.01 L133.45,94.25 L134.57,93.51 L135.69,92.78 L136.81,92.06 L137.93,91.35 L139.05,90.66 L140.17,89.97 L141.28,89.30 L142.40,88.64 L143.52,88.00 L144.64,87.36 L145.76,86.73 L146.88,86.11 L148.00,85.50 L149.11,84.91 L150.23,84.32 L151.35,83.74 L152.47,83.17 L153.59,82.61 L154.71,82.06 L155.83,81.51 L156.95,80.98 L158.06,80.45 L159.18,79.93 L160.30,79.42 L161.42,78.91 L162.54,78.42 L163.66,77.93 L164.78,77.44 L165.90,76.97 L167.01,76.50 L168.13,76.04 L169.25,75.58 L170.37,75.13 L171.49,74.69 L172.61,74.25 L173.73,73.82 L174.84,73.39 L175.96,72.97 L177.08,72.56 L178.20,72.15 L179.32,71.74 L180.44,71.35 L181.56,70.95 L182.68,70.57 L183.79,70.18 L184.91,69.80 L186.03,69.43 L187.15,69.06 L188.27,68.70 L189.39,68.34 L190.51,67.98 L191.63,67.63 L192.74,67.29 L193.86,66.94 L194.98,66.61 L196.10,66.27 L197.22,65.94 L198.34,65.62 L199.46,65.29 L200.57,64.98 L201.69,64.66 L202.81,64.35 L203.93,64.04 L205.05,63.74 L206.17,63.44 L207.29,63.14 L208.41,62.85 L209.52,62.55 L210.64,62.27 L211.76,61.98 L212.88,61.70 L214.00,61.42 L215.12,61.15 L216.24,60.88 L217.36,60.61 L218.47,60.34 L219.59,60.08 L220.71,59.82 L221.83,59.56 L222.95,59.30 L224.07,59.05 L225.19,58.80 L226.31,58.56 L227.42,58.31 L228.54,58.07 L229.66,57.83 L230.78,57.59 L231.90,57.36 L233.02,57.12 L234.14,56.89 L235.25,56.67 L236.37,56.44 L237.49,56.22 L238.61,55.99 L239.73,55.78 L240.85,55.56 L241.97,55.34 L243.09,55.13 L244.20,54.92 L245.32,54.71 L246.44,54.50 L247.56,54.30 L248.68,54.09 L249.80,53.89 L250.92,53.69 L252.04,53.50 L253.15,53.30 L254.27,53.11 L255.39,52.91 L256.51,52.72 L257.63,52.54 L258.75,52.35 L259.87,52.16 L260.98,51.98 L262.10,51.80 L263.22,51.62 L264.34,51.44 L265.46,51.26 L266.58,51.09 L267.70,50.91 L268.82,50.74 L269.93,50.57 L271.05,50.40 L272.17,50.23 L273.29,50.06 L274.41,49.90 L275.53,49.73 L276.65,49.57 L277.77,49.41 L278.88,49.25 L280.00,49.09 L281.12,48.93 L282.24,48.78 L283.36,48.62 L284.48,48.47 L285.60,48.32 L286.71,48.16 L287.83,48.01 L288.95,47.87 L290.07,47.72 L291.19,47.57 L292.31,47.43 L293.43,47.28 L294.55,47.14 L295.66,47.00 L296.78,46.86 L297.90,46.72 L299.02,46.58 L300.14,46.44 L301.26,46.30 L302.38,46.17 L303.50,46.03 L304.61,45.90 L305.73,45.77 L306.85,45.64 L307.97,45.51 L309.09,45.38 L310.21,45.25 L311.33,45.12 L312.44,45.00 L313.56,44.87 L314.68,44.75 L315.80,44.62 L316.92,44.50 L318.04,44.38 L319.16,44.26 L320.28,44.14 L321.39,44.02 L322.51,43.90 L323.63,43.78 L324.75,43.66 L325.87,43.55 L326.99,43.43 L328.11,43.32 L329.23,43.20 L330.34,43.09 L331.46,42.98 L332.58,42.87 L333.70,42.76 L334.82,42.65 L335.94,42.54 L337.06,42.43 L338.18,42.32 L339.29,42.22 L340.41,42.11 L341.53,42.01 L342.65,41.90 L343.77,41.80 L344.89,41.69 L346.01,41.59 L347.12,41.49 L348.24,41.39 L349.36,41.29 L350.48,41.19 L351.60,41.09 L352.72,40.99 L353.84,40.89 L354.96,40.80 L356.07,40.70 L357.19,40.60 L358.31,40.51 L359.43,40.41 L360.55,40.32 L361.67,40.22 L362.79,40.13 L363.91,40.04 L365.02,39.95 L366.14,39.86 L367.26,39.77 L368.38,39.68 L369.50,39.59 L370.62,39.50 L371.74,39.41 L372.85,39.32 L373.97,39.23 L375.09,39.15 L376.21,39.06 L377.33,38.97 L378.45,38.89 L379.57,38.80 L380.69,38.72 L381.80,38.64 L382.92,38.55 L384.04,38.47 L385.16,38.39 L386.28,38.31 L387.40,38.23 L388.52,38.14 L389.64,38.06 L390.75,37.98 L391.87,37.90 L392.99,37.83 L394.11,37.75 L395.23,37.67 L396.35,37.59 L397.47,37.51 L398.58,37.44 L399.70,37.36 L400.82,37.29 L401.94,37.21 L403.06,37.14 L404.18,37.06 L405.30,36.99 L406.42,36.91 L407.53,36.84 L408.65,36.77 L409.77,36.70 L410.89,36.62 L412.01,36.55 L413.13,36.48 L414.25,36.41 L415.37,36.34 L416.48,36.27 L417.60,36.20 L418.72,36.13 L419.84,36.06 L420.96,35.99 L422.08,35.92 L423.20,35.86 L424.31,35.79 L425.43,35.72 L426.55,35.66 L427.67,35.59 L428.79,35.52 L429.91,35.46 L431.03,35.39 L432.15,35.33 L433.26,35.26 L434.38,35.20 L435.50,35.13 L436.62,35.07 L437.74,35.01 L438.86,34.94 L439.98,34.88 L441.10,34.82 L442.21,34.76 L443.33,34.70 L444.45,34.64 L445.57,34.57 L446.69,34.51 L447.81,34.45 L448.93,34.39 L450.04,34.33 L451.16,34.27 L452.28,34.21 L453.40,34.16 L454.52,34.10 L455.64,34.04 L456.76,33.98 L457.88,33.92 L458.99,33.87 L460.11,33.81 L461.23,33.75 L462.35,33.70 L463.47,33.64 L464.59,33.58 L465.71,33.53 L466.83,33.47 L467.94,33.42 L469.06,33.36 L470.18,33.31 L471.30,33.25 L472.42,33.20 L473.54,33.14 L474.66,33.09 L475.78,33.04 L476.89,32.98 L478.01,32.93 L479.13,32.88 L480.25,32.83 L481.37,32.77 L482.49,32.72 L483.61,32.67 L484.72,32.62 L485.84,32.57 L486.96,32.52 L488.08,32.47 L489.20,32.42 L490.32,32.37 L491.44,32.32 L492.56,32.27 L493.67,32.22 L494.79,32.17 L495.91,32.12 L497.03,32.07 L498.15,32.02 L499.27,31.97 L500.39,31.93 L501.51,31.88 L502.62,31.83 L503.74,31.78 L504.86,31.74 L505.98,31.69" fill="none" stroke="#b41c42" stroke-width="1.2"/>
<path d="M58.50,221.50 L59.62,218.30 L60.74,215.19 L61.86,212.17 L62.97,209.24 L64.09,206.38 L65.21,203.60 L66.33,200.89 L67.45,198.26 L68.57,195.69 L69.69,193.19 L70.81,190.75 L71.92,188.37 L73.04,186.05 L74.16,183.78 L75.28,181.57 L76.40,179.42 L77.52,177.31 L78.64,175.25 L79.76,173.24 L80.87,171.27 L81.99,169.35 L83.11,167.47 L84.23,165.63 L85.35,163.84 L86.47,162.08 L87.59,160.35 L88.70,158.67 L89.82,157.01 L90.94,155.40 L92.06,153.81 L93.18,152.26 L94.30,150.74 L95.42,149.24 L96.54,147.78 L97.65,146.35 L98.77,144.94 L99.89,143.56 L101.01,142.20 L102.13,140.87 L103.25,139.57 L104.37,138.29 L105.49,137.03 L106.60,135.79 L107.72,134.58 L108.84,133.39 L109.96,132.22 L111.08,131.07 L112.20,129.93 L113.32,128.82 L114.44,127.73 L115.55,126.65 L116.67,125.60 L117.79,124.56 L118.91,123.53 L120.03,122.53 L121.15,121.54 L122.27,120.56 L123.38,119.61 L124.50,118.66 L125.62,117.73 L126.74,116.82 L127.86,115.92 L128.98,115.03 L130.10,114.16 L131.22,113.30 L132.33,112.45 L133.45,111.61 L134.57,110.79 L135.69,109.98 L136.81,109.18 L137.93,108.39 L139.05,107.62 L140.17,106.85 L141.28,106.10 L142.40,105.35 L143.52,104.62 L144.64,103.89 L145.76,103.18 L146.88,102.47 L148.00,101.78 L149.11,101.09 L150.23,100.42 L151.35,99.75 L152.47,99.09 L153.59,98.44 L154.71,97.80 L155.83,97.17 L156.95,96.54 L158.06,95.92 L159.18,95.31 L160.30,94.71 L161.42,94.12 L162.54,93.53 L163.66,92.95 L164.78,92.38 L165.90,91.81 L167.01,91.25 L168.13,90.70 L169.25,90.15 L170.37,89.61 L171.49,89.08 L172.61,88.55 L173.73,88.03 L174.84,87.52 L175.96,87.01 L177.08,86.51 L178.20,86.01 L179.32,85.52 L180.44,85.03 L181.56,84.55 L182.68,84.08 L183.79,83.61 L184.91,83.14 L186.03,82.68 L187.15,82.23 L188.27,81.78 L189.39,81.34 L190.51,80.90 L191.63,80.46 L192.74,80.03 L193.86,79.60 L194.98,79.18 L196.10,78.77 L197.22,78.35 L198.34,77.94 L199.46,77.54 L200.57,77.14 L201.69,76.74 L202.81,76.35 L203.93,75.96 L205.05,75.58 L206.17,75.20 L207.29,74.82 L208.41,74.45 L209.52,74.08 L210.64,73.71 L211.76,73.35 L212.88,72.99 L214.00,72.64 L215.12,72.29 L216.24,71.94 L217.36,71.59 L218.47,71.25 L219.59,70.91 L220.71,70.58 L221.83,70.24 L222.95,69.91 L224.07,69.59 L225.19,69.26 L226.31,68.94 L227.42,68.63 L228.54,68.31 L229.66,68.00 L230.78,67.69 L231.90,67.39 L233.02,67.08 L234.14,66.78 L235.25,66.48 L236.37,66.19 L237.49,65.90 L238.61,65.61 L239.73,65.32 L240.85,65.03 L241.97,64.75 L243.09,64.47 L244.20,64.19 L245.32,63.92 L246.44,63.64 L247.56,63.37 L248.68,63.10 L249.80,62.84 L250.92,62.57 L252.04,62.31 L253.15,62.05 L254.27,61.79 L255.39,61.54 L256.51,61.28 L257.63,61.03 L258.75,60.78 L259.87,60.54 L260.98,60.29 L262.10,60.05 L263.22,59.81 L264.34,59.57 L265.46,59.33 L266.58,59.09 L267.70,58.86 L268.82,58.63 L269.93,58.40 L271.05,58.17 L272.17,57.94 L273.29,57.71 L274.41,57.49 L275.53,57.27 L276.65,57.05 L277.77,56.83 L278.88,56.61 L280.00,56.40 L281.12,56.19 L282.24,55.97 L283.36,55.76 L284.48,55.55 L285.60,55.35 L286.71,55.14 L287.83,54.94 L288.95,54.73 L290.07,54.53 L291.19,54.33 L292.31,54.14 L293.43,53.94 L294.55,53.74 L295.66,53.55 L296.78,53.36 L297.90,53.16 L299.02,52.97 L300.14,52.79 L301.26,52.60 L302.38,52.41 L303.50,52.23 L304.61,52.04 L305.73,51.86 L306.85,51.68 L307.97,51.50 L309.09,51.32 L310.21,51.15 L311.33,50.97 L312.44,50.79 L313.56,50.62 L314.68,50.45 L315.80,50.28 L316.92,50.11 L318.04,49.94 L319.16,49.77 L320.28,49.60 L321.39,49.44 L322.51,49.27 L323.63,49.11 L324.75,48.95 L325.87,48.79 L326.99,48.62 L328.11,48.47 L329.23,48.31 L330.34,48.15 L331.46,47.99 L332.58,47.84 L333.70,47.68 L334.82,47.53 L335.94,47.38 L337.06,47.23 L338.18,47.08 L339.29,46.93 L340.41,46.78 L341.53,46.63 L342.65,46.48 L343.77,46.34 L344.89,46.19 L346.01,46.05 L347.12,45.91 L348.24,45.76 L349.36,45.62 L350.48,45.48 L351.60,45.34 L352.72,45.20 L353.84,45.06 L354.96,44.93 L356.07,44.79 L357.19,44.65 L358.31,44.52 L359.43,44.39 L360.55,44.25 L361.67,44.12 L362.79,43.99 L363.91,43.86 L365.02,43.73 L366.14,43.60 L367.26,43.47 L368.38,43.34 L369.50,43.21 L370.62,43.09 L371.74,42.96 L372.85,42.84 L373.97,42.71 L375.09,42.59 L376.21,42.47 L377.33,42.34 L378.45,42.22 L379.57,42.10 L380.69,41.98 L381.80,41.86 L382.92,41.74 L384.04,41.63 L385.16,41.51 L386.28,41.39 L387.40,41.28 L388.52,41.16 L389.64,41.05 L390.75,40.93 L391.87,40.82 L392.99,40.70 L394.11,40.59 L395.23,40.48 L396.35,40.37 L397.47,40.26 L398.58,40.15 L399.70,40.04 L400.82,39.93 L401.94,39.82 L403.06,39.72 L404.18,39.61 L405.30,39.50 L406.42,39.40 L407.53,39.29 L408.65,39.19 L409.77,39.08 L410.89,38.98 L412.01,38.87 L413.13,38.77 L414.25,38.67 L415.37,38.57 L416.48,38.47 L417.60,38.37 L418.72,38.27 L419.84,38.17 L420.96,38.07 L422.08,37.97 L423.20,37.87 L424.31,37.77 L425.43,37.68 L426.55,37.58 L427.67,37.48 L428.79,37.39 L429.91,37.29 L431.03,37.20 L432.15,37.10 L433.26,37.01 L434.38,36.92 L435.50,36.82 L436.62,36.73 L437.74,36.64 L438.86,36.55 L439.98,36.46 L441.10,36.37 L442.21,36.28 L443.33,36.19 L444.45,36.10 L445.57,36.01 L446.69,35.92 L447.81,35.83 L448.93,35.75 L450.04,35.66 L451.16,35.57 L452.28,35.49 L453.40,35.40 L454.52,35.31 L455.64,35.23 L456.76,35.14 L457.88,35.06 L458.99,34.98 L460.11,34.89 L461.23,34.81 L462.35,34.73 L463.47,34.64 L464.59,34.56 L465.71,34.48 L466.83,34.40 L467.94,34.32 L469.06,34.24 L470.18,34.16 L471.30,34.08 L472.42,34.00 L473.54,33.92 L474.66,33.84 L475.78,33.76 L476.89,33.69 L478.01,33.61 L479.13,33.53 L480.25,33.45 L481.37,33.38 L482.49,33.30 L483.61,33.23 L484.72,33.15 L485.84,33.08 L486.96,33.00 L488.08,32.93 L489.20,32.85 L490.32,32.78 L491.44,32.70 L492.56,32.63 L493.67,32.56 L494.79,32.49 L495.91,32.41 L497.03,32.34 L498.15,32.27 L499.27,32.20 L500.39,32.13 L501.51,32.06 L502.62,31.99 L503.74,31.92 L504.86,31.85 L505.98,31.78" fill="none" stroke="#9c98d2" stroke-width="1.2"/>
<path d="M58.50,221.50 L59.62,203.96 L60.74,189.31 L61.86,176.90 L62.97,166.26 L64.09,157.02 L65.21,148.93 L66.33,141.78 L67.45,135.43 L68.57,129.74 L69.69,124.61 L70.81,119.98 L71.92,115.76 L73.04,111.91 L74.16,108.37 L75.28,105.12 L76.40,102.12 L77.52,99.34 L78.64,96.75 L79.76,94.35 L80.87,92.10 L81.99,90.00 L83.11,88.03 L84.23,86.18 L85.35,84.44 L86.47,82.79 L87.59,81.24 L88.70,79.77 L89.82,78.38 L90.94,77.06 L92.06,75.81 L93.18,74.61 L94.30,73.48 L95.42,72.39 L96.54,71.36 L97.65,70.37 L98.77,69.42 L99.89,68.51 L101.01,67.65 L102.13,66.81 L103.25,66.01 L104.37,65.25 L105.49,64.51 L106.60,63.80 L107.72,63.11 L108.84,62.45 L109.96,61.81 L111.08,61.20 L112.20,60.61 L113.32,60.03 L114.44,59.48 L115.55,58.95 L116.67,58.43 L117.79,57.92 L118.91,57.44 L120.03,56.97 L121.15,56.51 L122.27,56.07 L123.38,55.64 L124.50,55.22 L125.62,54.81 L126.74,54.42 L127.86,54.03 L128.98,53.66 L130.10,53.30 L131.22,52.94 L132.33,52.60 L133.45,52.26 L134.57,51.94 L135.69,51.62 L136.81,51.31 L137.93,51.01 L139.05,50.71 L140.17,50.42 L141.28,50.14 L142.40,49.87 L143.52,49.60 L144.64,49.33 L145.76,49.08 L146.88,48.83 L148.00,48.58 L149.11,48.34 L150.23,48.11 L151.35,47.88 L152.47,47.65 L153.59,47.44 L154.71,47.22 L155.83,47.01 L156.95,46.80 L158.06,46.60 L159.18,46.40 L160.30,46.21 L161.42,46.02 L162.54,45.83 L163.66,45.65 L164.78,45.47 L165.90,45.29 L167.01,45.12 L168.13,44.95 L169.25,44.78 L170.37,44.62 L171.49,44.46 L172.61,44.30 L173.73,44.14 L174.84,43.99 L175.96,43.84 L177.08,43.69 L178.20,43.55 L179.32,43.41 L180.44,43.27 L181.56,43.13 L182.68,42.99 L183.79,42.86 L184.91,42.73 L186.03,42.60 L187.15,42.47 L188.27,42.35 L189.39,42.23 L190.51,42.11 L191.63,41.99 L192.74,41.87 L193.86,41.76 L194.98,41.64 L196.10,41.53 L197.22,41.42 L198.34,41.31 L199.46,41.20 L200.57,41.10 L201.69,40.99 L202.81,40.89 L203.93,40.79 L205.05,40.69 L206.17,40.59 L207.29,40.50 L208.41,40.40 L209.52,40.31 L210.64,40.21 L211.76,40.12 L212.88,40.03 L214.00,39.94 L215.12,39.86 L216.24,39.77 L217.36,39.68 L218.47,39.60 L219.59,39.52 L220.71,39.43 L221.83,39.35 L222.95,39.27 L224.07,39.19 L225.19,39.11 L226.31,39.04 L227.42,38.96 L228.54,38.89 L229.66,38.81 L230.78,38.74 L231.90,38.66 L233.02,38.59 L234.14,38.52 L235.25,38.45 L236.37,38.38 L237.49,38.31 L238.61,38.25 L239.73,38.18 L240.85,38.11 L241.97,38.05 L243.09,37.98 L244.20,37.92 L245.32,37.86 L246.44,37.80 L247.56,37.73 L248.68,37.67 L249.80,37.61 L250.92,37.55 L252.04,37.49 L253.15,37.44 L254.27,37.38 L255.39,37.32 L256.51,37.26 L257.63,37.21 L258.75,37.15 L259.87,37.10 L260.98,37.04 L262.10,36.99 L263.22,36.94 L264.34,36.88 L265.46,36.83 L266.58,36.78 L267.70,36.73 L268.82,36.68 L269.93,36.63 L271.05,36.58 L272.17,36.53 L273.29,36.48 L274.41,36.44 L275.53,36.39 L276.65,36.34 L277.77,36.29 L278.88,36.25 L280.00,36.20 L281.12,36.16 L282.24,36.11 L283.36,36.07 L284.48,36.02 L285.60,35.98 L286.71,35.94 L287.83,35.90 L288.95,35.85 L290.07,35.81 L291.19,35.77 L292.31,35.73 L293.43,35.69 L294.55,35.65 L295.66,35.61 L296.78,35.57 L297.90,35.53 L299.02,35.49 L300.14,35.45 L301.26,35.41 L302.38,35.37 L303.50,35.34 L304.61,35.30 L305.73,35.26 L306.85,35.23 L307.97,35.19 L309.09,35.15 L310.21,35.12 L311.33,35.08 L312.44,35.05 L313.56,35.01 L314.68,34.98 L315.80,34.94 L316.92,34.91 L318.04,34.88 L319.16,34.84 L320.28,34.81 L321.39,34.78 L322.51,34.74 L323.63,34.71 L324.75,34.68 L325.87,34.65 L326.99,34.62 L328.11,34.58 L329.23,34.55 L330.34,34.52 L331.46,34.49 L332.58,34.46 L333.70,34.43 L334.82,34.40 L335.94,34.37 L337.06,34.34 L338.18,34.31 L339.29,34.28 L340.41,34.26 L341.53,34.23 L342.65,34.20 L343.77,34.17 L344.89,34.14 L346.01,34.11 L347.12,34.09 L348.24,34.06 L349.36,34.03 L350.48,34.01 L351.60,33.98 L352.72,33.95 L353.84,33.93 L354.96,33.90 L356.07,33.87 L357.19,33.85 L358.31,33.82 L359.43,33.80 L360.55,33.77 L361.67,33.75 L362.79,33.72 L363.91,33.70 L365.02,33.67 L366.14,33.65 L367.26,33.63 L368.38,33.60 L369.50,33.58 L370.62,33.55 L371.74,33.53 L372.85,33.51 L373.97,33.48 L375.09,33.46 L376.21,33.44 L377.33,33.42 L378.45,33.39 L379.57,33.37 L380.69,33.35 L381.80,33.33 L382.92,33.31 L384.04,33.28 L385.16,33.26 L386.28,33.24 L387.40,33.22 L388.52,33.20 L389.64,33.18 L390.75,33.16 L391.87,33.13 L392.99,33.11 L394.11,33.09 L395.23,33.07 L396.35,33.05 L397.47,33.03 L398.58,33.01 L399.70,32.99 L400.82,32.97 L401.94,32.95 L403.06,32.93 L404.18,32.91 L405.30,32.90 L406.42,32.88 L407.53,32.86 L408.65,32.84 L409.77,32.82 L410.89,32.80 L412.01,32.78 L413.13,32.76 L414.25,32.75 L415.37,32.73 L416.48,32.71 L417.60,32.69 L418.72,32.67 L419.84,32.66 L420.96,32.64 L422.08,32.62 L423.20,32.60 L424.31,32.59 L425.43,32.57 L426.55,32.55 L427.67,32.53 L428.79,32.52 L429.91,32.50 L431.03,32.48 L432.15,32.47 L433.26,32.45 L434.38,32.43 L435.50,32.42 L436.62,32.40 L437.74,32.38 L438.86,32.37 L439.98,32.35 L441.10,32.34 L442.21,32.32 L443.33,32.31 L444.45,32.29 L445.57,32.27 L446.69,32.26 L447.81,32.24 L448.93,32.23 L450.04,32.21 L451.16,32.20 L452.28,32.18 L453.40,32.17 L454.52,32.15 L455.64,32.14 L456.76,32.12 L457.88,32.11 L458.99,32.09 L460.11,32.08 L461.23,32.07 L462.35,32.05 L463.47,32.04 L464.59,32.02 L465.71,32.01 L466.83,31.99 L467.94,31.98 L469.06,31.97 L470.18,31.95 L471.30,31.94 L472.42,31.93 L473.54,31.91 L474.66,31.90 L475.78,31.88 L476.89,31.87 L478.01,31.86 L479.13,31.84 L480.25,31.83 L481.37,31.82 L482.49,31.81 L483.61,31.79 L484.72,31.78 L485.84,31.77 L486.96,31.75 L488.08,31.74 L489.20,31.73 L490.32,31.72 L491.44,31.70 L492.56,31.69 L493.67,31.68 L494.79,31.67 L495.91,31.65 L497.03,31.64 L498.15,31.63 L499.27,31.62 L500.39,31.61 L501.51,31.59 L502.62,31.58 L503.74,31.57 L504.86,31.56 L505.98,31.55" fill="none" stroke="#c8c390" stroke-width="1.2"/>
<path d="M58.50,221.50 L59.62,213.38 L60.74,205.89 L61.86,198.95 L62.97,192.52 L64.09,186.53 L65.21,180.95 L66.33,175.73 L67.45,170.84 L68.57,166.24 L69.69,161.92 L70.81,157.85 L71.92,154.00 L73.04,150.37 L74.16,146.93 L75.28,143.66 L76.40,140.56 L77.52,137.61 L78.64,134.80 L79.76,132.12 L80.87,129.57 L81.99,127.13 L83.11,124.80 L84.23,122.56 L85.35,120.42 L86.47,118.37 L87.59,116.40 L88.70,114.51 L89.82,112.69 L90.94,110.94 L92.06,109.25 L93.18,107.63 L94.30,106.06 L95.42,104.55 L96.54,103.09 L97.65,101.69 L98.77,100.32 L99.89,99.01 L101.01,97.73 L102.13,96.50 L103.25,95.31 L104.37,94.15 L105.49,93.03 L106.60,91.94 L107.72,90.88 L108.84,89.85 L109.96,88.86 L111.08,87.89 L112.20,86.95 L113.32,86.03 L114.44,85.14 L115.55,84.27 L116.67,83.43 L117.79,82.61 L118.91,81.81 L120.03,81.03 L121.15,80.27 L122.27,79.52 L123.38,78.80 L124.50,78.09 L125.62,77.40 L126.74,76.73 L127.86,76.07 L128.98,75.43 L130.10,74.80 L131.22,74.19 L132.33,73.59 L133.45,73.00 L134.57,72.43 L135.69,71.87 L136.81,71.32 L137.93,70.78 L139.05,70.25 L140.17,69.73 L141.28,69.23 L142.40,68.73 L143.52,68.25 L144.64,67.77 L145.76,67.31 L146.88,66.85 L148.00,66.40 L149.11,65.96 L150.23,65.53 L151.35,65.11 L152.47,64.69 L153.59,64.28 L154.71,63.88 L155.83,63.49 L156.95,63.10 L158.06,62.72 L159.18,62.35 L160.30,61.99 L161.42,61.63 L162.54,61.27 L163.66,60.92 L164.78,60.58 L165.90,60.25 L167.01,59.92 L168.13,59.59 L169.25,59.27 L170.37,58.96 L171.49,58.65 L172.61,58.34 L173.73,58.04 L174.84,57.75 L175.96,57.46 L177.08,57.17 L178.20,56.89 L179.32,56.61 L180.44,56.34 L181.56,56.07 L182.68,55.80 L183.79,55.54 L184.91,55.28 L186.03,55.03 L187.15,54.78 L188.27,54.53 L189.39,54.29 L190.51,54.05 L191.63,53.81 L192.74,53.58 L193.86,53.35 L194.98,53.13 L196.10,52.90 L197.22,52.68 L198.34,52.46 L199.46,52.25 L200.57,52.04 L201.69,51.83 L202.81,51.62 L203.93,51.42 L205.05,51.22 L206.17,51.02 L207.29,50.82 L208.41,50.63 L209.52,50.44 L210.64,50.25 L211.76,50.06 L212.88,49.88 L214.00,49.70 L215.12,49.52 L216.24,49.34 L217.36,49.17 L218.47,48.99 L219.59,48.82 L220.71,48.65 L221.83,48.49 L222.95,48.32 L224.07,48.16 L225.19,48.00 L226.31,47.84 L227.42,47.68 L228.54,47.53 L229.66,47.37 L230.78,47.22 L231.90,47.07 L233.02,46.92 L234.14,46.77 L235.25,46.63 L236.37,46.48 L237.49,46.34 L238.61,46.20 L239.73,46.06 L240.85,45.92 L241.97,45.79 L243.09,45.65 L244.20,45.52 L245.32,45.39 L246.44,45.26 L247.56,45.13 L248.68,45.00 L249.80,44.87 L250.92,44.75 L252.04,44.62 L253.15,44.50 L254.27,44.38 L255.39,44.26 L256.51,44.14 L257.63,44.02 L258.75,43.90 L259.87,43.79 L260.98,43.67 L262.10,43.56 L263.22,43.45 L264.34,43.34 L265.46,43.23 L266.58,43.12 L267.70,43.01 L268.82,42.90 L269.93,42.80 L271.05,42.69 L272.17,42.59 L273.29,42.48 L274.41,42.38 L275.53,42.28 L276.65,42.18 L277.77,42.08 L278.88,41.98 L280.00,41.88 L281.12,41.79 L282.24,41.69 L283.36,41.60 L284.48,41.50 L285.60,41.41 L286.71,41.32 L287.83,41.22 L288.95,41.13 L290.07,41.04 L291.19,40.95 L292.31,40.86 L293.43,40.78 L294.55,40.69 L295.66,40.60 L296.78,40.52 L297.90,40.43 L299.02,40.35 L300.14,40.27 L301.26,40.18 L302.38,40.10 L303.50,40.02 L304.61,39.94 L305.73,39.86 L306.85,39.78 L307.97,39.70 L309.09,39.62 L310.21,39.54 L311.33,39.47 L312.44,39.39 L313.56,39.31 L314.68,39.24 L315.80,39.17 L316.92,39.09 L318.04,39.02 L319.16,38.94 L320.28,38.87 L321.39,38.80 L322.51,38.73 L323.63,38.66 L324.75,38.59 L325.87,38.52 L326.99,38.45 L328.11,38.38 L329.23,38.31 L330.34,38.25 L331.46,38.18 L332.58,38.11 L333.70,38.05 L334.82,37.98 L335.94,37.92 L337.06,37.85 L338.18,37.79 L339.29,37.73 L340.41,37.66 L341.53,37.60 L342.65,37.54 L343.77,37.48 L344.89,37.41 L346.01,37.35 L347.12,37.29 L348.24,37.23 L349.36,37.17 L350.48,37.11 L351.60,37.06 L352.72,37.00 L353.84,36.94 L354.96,36.88 L356.07,36.82 L357.19,36.77 L358.31,36.71 L359.43,36.66 L360.55,36.60 L361.67,36.54 L362.79,36.49 L363.91,36.44 L365.02,36.38 L366.14,36.33 L367.26,36.27 L368.38,36.22 L369.50,36.17 L370.62,36.12 L371.74,36.06 L372.85,36.01 L373.97,35.96 L375.09,35.91 L376.21,35.86 L377.33,35.81 L378.45,35.76 L379.57,35.71 L380.69,35.66 L381.80,35.61 L382.92,35.56 L384.04,35.51 L385.16,35.47 L386.28,35.42 L387.40,35.37 L388.52,35.32 L389.64,35.28 L390.75,35.23 L391.87,35.18 L392.99,35.14 L394.11,35.09 L395.23,35.05 L396.35,35.00 L397.47,34.96 L398.58,34.91 L399.70,34.87 L400.82,34.82 L401.94,34.78 L403.06,34.74 L404.18,34.69 L405.30,34.65 L406.42,34.61 L407.53,34.56 L408.65,34.52 L409.77,34.48 L410.89,34.44 L412.01,34.40 L413.13,34.35 L414.25,34.31 L415.37,34.27 L416.48,34.23 L417.60,34.19 L418.72,34.15 L419.84,34.11 L420.96,34.07 L422.08,34.03 L423.20,33.99 L424.31,33.95 L425.43,33.92 L426.55,33.88 L427.67,33.84 L428.79,33.80 L429.91,33.76 L431.03,33.73 L432.15,33.69 L433.26,33.65 L434.38,33.61 L435.50,33.58 L436.62,33.54 L437.74,33.50 L438.86,33.47 L439.98,33.43 L441.10,33.40 L442.21,33.36 L443.33,33.32 L444.45,33.29 L445.57,33.25 L446.69,33.22 L447.81,33.18 L448.93,33.15 L450.04,33.12 L451.16,33.08 L452.28,33.05 L453.40,33.01 L454.52,32.98 L455.64,32.95 L456.76,32.91 L457.88,32.88 L458.99,32.85 L460.11,32.82 L461.23,32.78 L462.35,32.75 L463.47,32.72 L464.59,32.69 L465.71,32.65 L466.83,32.62 L467.94,32.59 L469.06,32.56 L470.18,32.53 L471.30,32.50 L472.42,32.47 L473.54,32.44 L474.66,32.40 L475.78,32.37 L476.89,32.34 L478.01,32.31 L479.13,32.28 L480.25,32.25 L481.37,32.22 L482.49,32.19 L483.61,32.17 L484.72,32.14 L485.84,32.11 L486.96,32.08 L488.08,32.05 L489.20,32.02 L490.32,31.99 L491.44,31.96 L492.56,31.94 L493.67,31.91 L494.79,31.88 L495.91,31.85 L497.03,31.82 L498.15,31.80 L499.27,31.77 L500.39,31.74 L501.51,31.71 L502.62,31.69 L503.74,31.66 L504.86,31.63 L505.98,31.61" fill="none" stroke="#94705e" stroke-width="1.2"/>
<line x1="50.5" x2="50.5" y1="23.00" y2="230.00" stroke="#222" stroke-width="1.1"/>
<line x1="50" x2="519" y1="229.50" y2="229.50" stroke="#222" stroke-width="1.1"/>
<line x1="45" x2="50.5" y1="221.50" y2="221.50" stroke="#222" stroke-width="1.1"/>
<text transform="translate(34.50,221.25) scale(1,1.0)" text-anchor="middle" class="t">0</text>
<line x1="58.50" x2="58.50" y1="229.50" y2="234.70" stroke="#222" stroke-width="1.1"/>
<text transform="translate(58.50,250.40) scale(1,1.0)" text-anchor="middle" class="t">0</text>
<line x1="45" x2="50.5" y1="183.50" y2="183.50" stroke="#222" stroke-width="1.1"/>
<text transform="translate(34.50,183.25) scale(1,1.0)" text-anchor="middle" class="t">.2</text>
<line x1="148.90" x2="148.90" y1="229.50" y2="234.70" stroke="#222" stroke-width="1.1"/>
<text transform="translate(148.90,250.40) scale(1,1.0)" text-anchor="middle" class="t">.2</text>
<line x1="45" x2="50.5" y1="145.50" y2="145.50" stroke="#222" stroke-width="1.1"/>
<text transform="translate(34.50,145.25) scale(1,1.0)" text-anchor="middle" class="t">.4</text>
<line x1="239.30" x2="239.30" y1="229.50" y2="234.70" stroke="#222" stroke-width="1.1"/>
<text transform="translate(239.30,250.40) scale(1,1.0)" text-anchor="middle" class="t">.4</text>
<line x1="45" x2="50.5" y1="107.50" y2="107.50" stroke="#222" stroke-width="1.1"/>
<text transform="translate(34.50,107.25) scale(1,1.0)" text-anchor="middle" class="t">.6</text>
<line x1="329.70" x2="329.70" y1="229.50" y2="234.70" stroke="#222" stroke-width="1.1"/>
<text transform="translate(329.70,250.40) scale(1,1.0)" text-anchor="middle" class="t">.6</text>
<line x1="45" x2="50.5" y1="69.50" y2="69.50" stroke="#222" stroke-width="1.1"/>
<text transform="translate(34.50,69.25) scale(1,1.0)" text-anchor="middle" class="t">.8</text>
<line x1="420.10" x2="420.10" y1="229.50" y2="234.70" stroke="#222" stroke-width="1.1"/>
<text transform="translate(420.10,250.40) scale(1,1.0)" text-anchor="middle" class="t">.8</text>
<line x1="45" x2="50.5" y1="31.50" y2="31.50" stroke="#222" stroke-width="1.1"/>
<path d="M763 0L583 0L583 1147C540 1106 483 1064 413 1023C343 982 280 951 223 930L223 1104C324 1151 412 1209 487 1276C562 1343 616 1409 647 1472L763 1472Z" transform="translate(31.024,31.250) scale(0.006104,-0.006104)" fill="#1a1a1a" stroke="#1a1a1a" stroke-width="24.6"/>
<line x1="510.50" x2="510.50" y1="229.50" y2="234.70" stroke="#222" stroke-width="1.1"/>
<path d="M763 0L583 0L583 1147C540 1106 483 1064 413 1023C343 982 280 951 223 930L223 1104C324 1151 412 1209 487 1276C562 1343 616 1409 647 1472L763 1472Z" transform="translate(507.024,250.400) scale(0.006104,-0.006104)" fill="#1a1a1a" stroke="#1a1a1a" stroke-width="24.6"/>
<text transform="translate(271.6,10.50) scale(1,1.0)" text-anchor="middle" class="ti">Test positive</text>
<text transform="translate(272,267.50) scale(1,1.0)" text-anchor="middle" class="ax">Pre-test probability</text>
<text x="0" y="0" transform="translate(10.0,125.20) rotate(-90)" text-anchor="middle" class="ax">Post-test probability</text>
<line x1="267.9" x2="317.6" y1="81.75" y2="81.75" stroke="#c8c390" stroke-width="1.2"/>
<text transform="translate(327.2,85.15) scale(1,1.0)" class="lg">Polyspecific CLIA, high threshold</text>
<line x1="267.9" x2="317.6" y1="96.45" y2="96.45" stroke="#7e3846" stroke-width="1.2"/>
<text transform="translate(327.2,100.00) scale(1,1.0)" class="lg">Polyspecific ELISA, intermediate threshold</text>
<line x1="267.9" x2="317.6" y1="113.07" y2="113.07" stroke="#94705e" stroke-width="1.2"/>
<text transform="translate(327.2,116.30) scale(1,1.0)" class="lg">IgG-specific CLIA, low threshold</text>
<line x1="267.9" x2="317.6" y1="129.68" y2="129.68" stroke="#80a0a6" stroke-width="1.2"/>
<text transform="translate(327.2,132.70) scale(1,1.0)" class="lg">PaGIA</text>
<line x1="267.9" x2="317.6" y1="145.25" y2="145.25" stroke="#e08a22" stroke-width="1.2"/>
<text transform="translate(327.2,148.10) scale(1,1.0)" class="lg">IgG-specific ELISA, intermediate threshold</text>
<line x1="267.9" x2="317.6" y1="161.10" y2="161.10" stroke="#b41c42" stroke-width="1.2"/>
<text transform="translate(327.2,165.10) scale(1,1.0)" class="lg">Lateral flow immunoassay</text>
<line x1="267.9" x2="317.6" y1="178.00" y2="178.00" stroke="#2c4d6c" stroke-width="1.2"/>
<text transform="translate(327.2,181.20) scale(1,1.0)" class="lg">Polyspecific ELISA, low threshold</text>
<line x1="267.9" x2="317.6" y1="194.70" y2="194.70" stroke="#9c98d2" stroke-width="1.2"/>
<text transform="translate(327.2,197.50) scale(1,1.0)" class="lg">Polyspecific CLIA, low threshold</text>
<line x1="267.9" x2="317.6" y1="210.70" y2="210.70" stroke="#6c7f56" stroke-width="1.2"/>
<text transform="translate(327.2,214.10) scale(1,1.0)" class="lg">IgG-specific ELISA, low threshold</text>
<line x1="54" x2="520" y1="526.90" y2="526.90" stroke="#f4f4f4" stroke-width="1.5"/>
<line x1="54" x2="520" y1="488.90" y2="488.90" stroke="#f4f4f4" stroke-width="1.5"/>
<line x1="54" x2="520" y1="450.90" y2="450.90" stroke="#f4f4f4" stroke-width="1.5"/>
<line x1="54" x2="520" y1="412.90" y2="412.90" stroke="#f4f4f4" stroke-width="1.5"/>
<line x1="54" x2="520" y1="374.90" y2="374.90" stroke="#f4f4f4" stroke-width="1.5"/>
<line x1="54" x2="520" y1="336.90" y2="336.90" stroke="#f4f4f4" stroke-width="1.5"/>
<path d="M58.50,526.90 L59.62,526.88 L60.74,526.86 L61.86,526.84 L62.97,526.82 L64.09,526.80 L65.21,526.78 L66.33,526.76 L67.45,526.74 L68.57,526.72 L69.69,526.70 L70.81,526.68 L71.92,526.66 L73.04,526.64 L74.16,526.62 L75.28,526.60 L76.40,526.58 L77.52,526.56 L78.64,526.54 L79.76,526.52 L80.87,526.50 L81.99,526.48 L83.11,526.46 L84.23,526.44 L85.35,526.42 L86.47,526.39 L87.59,526.37 L88.70,526.35 L89.82,526.33 L90.94,526.31 L92.06,526.28 L93.18,526.26 L94.30,526.24 L95.42,526.22 L96.54,526.20 L97.65,526.17 L98.77,526.15 L99.89,526.13 L101.01,526.10 L102.13,526.08 L103.25,526.06 L104.37,526.03 L105.49,526.01 L106.60,525.99 L107.72,525.96 L108.84,525.94 L109.96,525.92 L111.08,525.89 L112.20,525.87 L113.32,525.84 L114.44,525.82 L115.55,525.79 L116.67,525.77 L117.79,525.75 L118.91,525.72 L120.03,525.70 L121.15,525.67 L122.27,525.64 L123.38,525.62 L124.50,525.59 L125.62,525.57 L126.74,525.54 L127.86,525.52 L128.98,525.49 L130.10,525.46 L131.22,525.44 L132.33,525.41 L133.45,525.38 L134.57,525.36 L135.69,525.33 L136.81,525.30 L137.93,525.27 L139.05,525.25 L140.17,525.22 L141.28,525.19 L142.40,525.16 L143.52,525.13 L144.64,525.11 L145.76,525.08 L146.88,525.05 L148.00,525.02 L149.11,524.99 L150.23,524.96 L151.35,524.93 L152.47,524.90 L153.59,524.87 L154.71,524.84 L155.83,524.81 L156.95,524.78 L158.06,524.75 L159.18,524.72 L160.30,524.69 L161.42,524.66 L162.54,524.63 L163.66,524.60 L164.78,524.56 L165.90,524.53 L167.01,524.50 L168.13,524.47 L169.25,524.44 L170.37,524.40 L171.49,524.37 L172.61,524.34 L173.73,524.30 L174.84,524.27 L175.96,524.24 L177.08,524.20 L178.20,524.17 L179.32,524.13 L180.44,524.10 L181.56,524.06 L182.68,524.03 L183.79,523.99 L184.91,523.96 L186.03,523.92 L187.15,523.89 L188.27,523.85 L189.39,523.81 L190.51,523.78 L191.63,523.74 L192.74,523.70 L193.86,523.67 L194.98,523.63 L196.10,523.59 L197.22,523.55 L198.34,523.51 L199.46,523.48 L200.57,523.44 L201.69,523.40 L202.81,523.36 L203.93,523.32 L205.05,523.28 L206.17,523.24 L207.29,523.20 L208.41,523.16 L209.52,523.12 L210.64,523.07 L211.76,523.03 L212.88,522.99 L214.00,522.95 L215.12,522.91 L216.24,522.86 L217.36,522.82 L218.47,522.78 L219.59,522.73 L220.71,522.69 L221.83,522.64 L222.95,522.60 L224.07,522.55 L225.19,522.51 L226.31,522.46 L227.42,522.42 L228.54,522.37 L229.66,522.32 L230.78,522.28 L231.90,522.23 L233.02,522.18 L234.14,522.13 L235.25,522.08 L236.37,522.03 L237.49,521.99 L238.61,521.94 L239.73,521.89 L240.85,521.84 L241.97,521.78 L243.09,521.73 L244.20,521.68 L245.32,521.63 L246.44,521.58 L247.56,521.52 L248.68,521.47 L249.80,521.42 L250.92,521.36 L252.04,521.31 L253.15,521.25 L254.27,521.20 L255.39,521.14 L256.51,521.08 L257.63,521.03 L258.75,520.97 L259.87,520.91 L260.98,520.85 L262.10,520.80 L263.22,520.74 L264.34,520.68 L265.46,520.62 L266.58,520.55 L267.70,520.49 L268.82,520.43 L269.93,520.37 L271.05,520.31 L272.17,520.24 L273.29,520.18 L274.41,520.11 L275.53,520.05 L276.65,519.98 L277.77,519.92 L278.88,519.85 L280.00,519.78 L281.12,519.71 L282.24,519.65 L283.36,519.58 L284.48,519.51 L285.60,519.44 L286.71,519.36 L287.83,519.29 L288.95,519.22 L290.07,519.15 L291.19,519.07 L292.31,519.00 L293.43,518.92 L294.55,518.85 L295.66,518.77 L296.78,518.69 L297.90,518.61 L299.02,518.53 L300.14,518.45 L301.26,518.37 L302.38,518.29 L303.50,518.21 L304.61,518.13 L305.73,518.04 L306.85,517.96 L307.97,517.87 L309.09,517.79 L310.21,517.70 L311.33,517.61 L312.44,517.52 L313.56,517.43 L314.68,517.34 L315.80,517.25 L316.92,517.15 L318.04,517.06 L319.16,516.97 L320.28,516.87 L321.39,516.77 L322.51,516.67 L323.63,516.58 L324.75,516.48 L325.87,516.37 L326.99,516.27 L328.11,516.17 L329.23,516.06 L330.34,515.96 L331.46,515.85 L332.58,515.74 L333.70,515.63 L334.82,515.52 L335.94,515.41 L337.06,515.30 L338.18,515.18 L339.29,515.07 L340.41,514.95 L341.53,514.83 L342.65,514.71 L343.77,514.59 L344.89,514.46 L346.01,514.34 L347.12,514.21 L348.24,514.09 L349.36,513.96 L350.48,513.83 L351.60,513.69 L352.72,513.56 L353.84,513.42 L354.96,513.28 L356.07,513.15 L357.19,513.00 L358.31,512.86 L359.43,512.72 L360.55,512.57 L361.67,512.42 L362.79,512.27 L363.91,512.12 L365.02,511.96 L366.14,511.80 L367.26,511.64 L368.38,511.48 L369.50,511.32 L370.62,511.15 L371.74,510.98 L372.85,510.81 L373.97,510.64 L375.09,510.46 L376.21,510.29 L377.33,510.11 L378.45,509.92 L379.57,509.74 L380.69,509.55 L381.80,509.35 L382.92,509.16 L384.04,508.96 L385.16,508.76 L386.28,508.56 L387.40,508.35 L388.52,508.14 L389.64,507.92 L390.75,507.71 L391.87,507.48 L392.99,507.26 L394.11,507.03 L395.23,506.80 L396.35,506.56 L397.47,506.32 L398.58,506.08 L399.70,505.83 L400.82,505.58 L401.94,505.32 L403.06,505.06 L404.18,504.79 L405.30,504.52 L406.42,504.25 L407.53,503.96 L408.65,503.68 L409.77,503.39 L410.89,503.09 L412.01,502.79 L413.13,502.48 L414.25,502.16 L415.37,501.84 L416.48,501.51 L417.60,501.18 L418.72,500.84 L419.84,500.49 L420.96,500.14 L422.08,499.78 L423.20,499.41 L424.31,499.03 L425.43,498.64 L426.55,498.25 L427.67,497.85 L428.79,497.44 L429.91,497.02 L431.03,496.58 L432.15,496.14 L433.26,495.69 L434.38,495.23 L435.50,494.76 L436.62,494.28 L437.74,493.78 L438.86,493.28 L439.98,492.76 L441.10,492.22 L442.21,491.68 L443.33,491.12 L444.45,490.54 L445.57,489.95 L446.69,489.34 L447.81,488.72 L448.93,488.08 L450.04,487.42 L451.16,486.74 L452.28,486.04 L453.40,485.33 L454.52,484.59 L455.64,483.83 L456.76,483.04 L457.88,482.23 L458.99,481.40 L460.11,480.53 L461.23,479.64 L462.35,478.72 L463.47,477.77 L464.59,476.79 L465.71,475.77 L466.83,474.72 L467.94,473.62 L469.06,472.49 L470.18,471.31 L471.30,470.09 L472.42,468.83 L473.54,467.51 L474.66,466.13 L475.78,464.70 L476.89,463.21 L478.01,461.66 L479.13,460.03 L480.25,458.33 L481.37,456.56 L482.49,454.69 L483.61,452.74 L484.72,450.69 L485.84,448.54 L486.96,446.27 L488.08,443.88 L489.20,441.36 L490.32,438.69 L491.44,435.87 L492.56,432.88 L493.67,429.70 L494.79,426.31 L495.91,422.70 L497.03,418.85 L498.15,414.72 L499.27,410.28 L500.39,405.50 L501.51,400.35 L502.62,394.76 L503.74,388.69 L504.86,382.07 L505.98,374.83" fill="none" stroke="#2c4d6c" stroke-width="1.2"/>
<path d="M58.50,526.90 L59.62,526.89 L60.74,526.88 L61.86,526.87 L62.97,526.87 L64.09,526.86 L65.21,526.85 L66.33,526.84 L67.45,526.83 L68.57,526.82 L69.69,526.81 L70.81,526.81 L71.92,526.80 L73.04,526.79 L74.16,526.78 L75.28,526.77 L76.40,526.76 L77.52,526.75 L78.64,526.74 L79.76,526.73 L80.87,526.72 L81.99,526.71 L83.11,526.71 L84.23,526.70 L85.35,526.69 L86.47,526.68 L87.59,526.67 L88.70,526.66 L89.82,526.65 L90.94,526.64 L92.06,526.63 L93.18,526.62 L94.30,526.61 L95.42,526.60 L96.54,526.59 L97.65,526.58 L98.77,526.57 L99.89,526.56 L101.01,526.55 L102.13,526.54 L103.25,526.53 L104.37,526.52 L105.49,526.51 L106.60,526.50 L107.72,526.49 L108.84,526.48 L109.96,526.47 L111.08,526.46 L112.20,526.45 L113.32,526.43 L114.44,526.42 L115.55,526.41 L116.67,526.40 L117.79,526.39 L118.91,526.38 L120.03,526.37 L121.15,526.36 L122.27,526.35 L123.38,526.33 L124.50,526.32 L125.62,526.31 L126.74,526.30 L127.86,526.29 L128.98,526.28 L130.10,526.27 L131.22,526.25 L132.33,526.24 L133.45,526.23 L134.57,526.22 L135.69,526.21 L136.81,526.19 L137.93,526.18 L139.05,526.17 L140.17,526.16 L141.28,526.14 L142.40,526.13 L143.52,526.12 L144.64,526.11 L145.76,526.09 L146.88,526.08 L148.00,526.07 L149.11,526.06 L150.23,526.04 L151.35,526.03 L152.47,526.02 L153.59,526.00 L154.71,525.99 L155.83,525.98 L156.95,525.96 L158.06,525.95 L159.18,525.94 L160.30,525.92 L161.42,525.91 L162.54,525.89 L163.66,525.88 L164.78,525.87 L165.90,525.85 L167.01,525.84 L168.13,525.82 L169.25,525.81 L170.37,525.79 L171.49,525.78 L172.61,525.76 L173.73,525.75 L174.84,525.73 L175.96,525.72 L177.08,525.70 L178.20,525.69 L179.32,525.67 L180.44,525.66 L181.56,525.64 L182.68,525.63 L183.79,525.61 L184.91,525.60 L186.03,525.58 L187.15,525.56 L188.27,525.55 L189.39,525.53 L190.51,525.51 L191.63,525.50 L192.74,525.48 L193.86,525.47 L194.98,525.45 L196.10,525.43 L197.22,525.41 L198.34,525.40 L199.46,525.38 L200.57,525.36 L201.69,525.34 L202.81,525.33 L203.93,525.31 L205.05,525.29 L206.17,525.27 L207.29,525.25 L208.41,525.24 L209.52,525.22 L210.64,525.20 L211.76,525.18 L212.88,525.16 L214.00,525.14 L215.12,525.12 L216.24,525.10 L217.36,525.08 L218.47,525.07 L219.59,525.05 L220.71,525.03 L221.83,525.01 L222.95,524.99 L224.07,524.96 L225.19,524.94 L226.31,524.92 L227.42,524.90 L228.54,524.88 L229.66,524.86 L230.78,524.84 L231.90,524.82 L233.02,524.80 L234.14,524.77 L235.25,524.75 L236.37,524.73 L237.49,524.71 L238.61,524.69 L239.73,524.66 L240.85,524.64 L241.97,524.62 L243.09,524.59 L244.20,524.57 L245.32,524.55 L246.44,524.52 L247.56,524.50 L248.68,524.47 L249.80,524.45 L250.92,524.43 L252.04,524.40 L253.15,524.38 L254.27,524.35 L255.39,524.33 L256.51,524.30 L257.63,524.27 L258.75,524.25 L259.87,524.22 L260.98,524.19 L262.10,524.17 L263.22,524.14 L264.34,524.11 L265.46,524.09 L266.58,524.06 L267.70,524.03 L268.82,524.00 L269.93,523.97 L271.05,523.94 L272.17,523.92 L273.29,523.89 L274.41,523.86 L275.53,523.83 L276.65,523.80 L277.77,523.77 L278.88,523.74 L280.00,523.70 L281.12,523.67 L282.24,523.64 L283.36,523.61 L284.48,523.58 L285.60,523.55 L286.71,523.51 L287.83,523.48 L288.95,523.45 L290.07,523.41 L291.19,523.38 L292.31,523.34 L293.43,523.31 L294.55,523.27 L295.66,523.24 L296.78,523.20 L297.90,523.17 L299.02,523.13 L300.14,523.09 L301.26,523.06 L302.38,523.02 L303.50,522.98 L304.61,522.94 L305.73,522.90 L306.85,522.86 L307.97,522.82 L309.09,522.78 L310.21,522.74 L311.33,522.70 L312.44,522.66 L313.56,522.62 L314.68,522.58 L315.80,522.53 L316.92,522.49 L318.04,522.45 L319.16,522.40 L320.28,522.36 L321.39,522.31 L322.51,522.27 L323.63,522.22 L324.75,522.17 L325.87,522.13 L326.99,522.08 L328.11,522.03 L329.23,521.98 L330.34,521.93 L331.46,521.88 L332.58,521.83 L333.70,521.78 L334.82,521.73 L335.94,521.67 L337.06,521.62 L338.18,521.57 L339.29,521.51 L340.41,521.46 L341.53,521.40 L342.65,521.34 L343.77,521.28 L344.89,521.23 L346.01,521.17 L347.12,521.11 L348.24,521.05 L349.36,520.99 L350.48,520.92 L351.60,520.86 L352.72,520.80 L353.84,520.73 L354.96,520.67 L356.07,520.60 L357.19,520.53 L358.31,520.46 L359.43,520.39 L360.55,520.32 L361.67,520.25 L362.79,520.18 L363.91,520.11 L365.02,520.03 L366.14,519.96 L367.26,519.88 L368.38,519.80 L369.50,519.72 L370.62,519.64 L371.74,519.56 L372.85,519.48 L373.97,519.39 L375.09,519.31 L376.21,519.22 L377.33,519.13 L378.45,519.04 L379.57,518.95 L380.69,518.86 L381.80,518.77 L382.92,518.67 L384.04,518.58 L385.16,518.48 L386.28,518.38 L387.40,518.27 L388.52,518.17 L389.64,518.07 L390.75,517.96 L391.87,517.85 L392.99,517.74 L394.11,517.62 L395.23,517.51 L396.35,517.39 L397.47,517.27 L398.58,517.15 L399.70,517.03 L400.82,516.90 L401.94,516.77 L403.06,516.64 L404.18,516.51 L405.30,516.37 L406.42,516.23 L407.53,516.09 L408.65,515.94 L409.77,515.80 L410.89,515.64 L412.01,515.49 L413.13,515.33 L414.25,515.17 L415.37,515.01 L416.48,514.84 L417.60,514.67 L418.72,514.49 L419.84,514.31 L420.96,514.13 L422.08,513.94 L423.20,513.75 L424.31,513.55 L425.43,513.35 L426.55,513.15 L427.67,512.93 L428.79,512.72 L429.91,512.50 L431.03,512.27 L432.15,512.03 L433.26,511.79 L434.38,511.55 L435.50,511.30 L436.62,511.04 L437.74,510.77 L438.86,510.49 L439.98,510.21 L441.10,509.92 L442.21,509.62 L443.33,509.32 L444.45,509.00 L445.57,508.67 L446.69,508.34 L447.81,507.99 L448.93,507.63 L450.04,507.26 L451.16,506.88 L452.28,506.48 L453.40,506.07 L454.52,505.65 L455.64,505.21 L456.76,504.76 L457.88,504.29 L458.99,503.80 L460.11,503.29 L461.23,502.77 L462.35,502.22 L463.47,501.65 L464.59,501.06 L465.71,500.44 L466.83,499.79 L467.94,499.12 L469.06,498.41 L470.18,497.68 L471.30,496.91 L472.42,496.10 L473.54,495.25 L474.66,494.36 L475.78,493.42 L476.89,492.43 L478.01,491.39 L479.13,490.29 L480.25,489.12 L481.37,487.89 L482.49,486.58 L483.61,485.18 L484.72,483.69 L485.84,482.10 L486.96,480.40 L488.08,478.58 L489.20,476.61 L490.32,474.50 L491.44,472.20 L492.56,469.71 L493.67,467.00 L494.79,464.04 L495.91,460.78 L497.03,457.19 L498.15,453.21 L499.27,448.76 L500.39,443.78 L501.51,438.14 L502.62,431.72 L503.74,424.34 L504.86,415.77 L505.98,405.69" fill="none" stroke="#7e3846" stroke-width="1.2"/>
<path d="M58.50,526.90 L59.62,526.89 L60.74,526.88 L61.86,526.87 L62.97,526.85 L64.09,526.84 L65.21,526.83 L66.33,526.82 L67.45,526.81 L68.57,526.80 L69.69,526.78 L70.81,526.77 L71.92,526.76 L73.04,526.75 L74.16,526.74 L75.28,526.72 L76.40,526.71 L77.52,526.70 L78.64,526.69 L79.76,526.68 L80.87,526.66 L81.99,526.65 L83.11,526.64 L84.23,526.63 L85.35,526.61 L86.47,526.60 L87.59,526.59 L88.70,526.57 L89.82,526.56 L90.94,526.55 L92.06,526.53 L93.18,526.52 L94.30,526.51 L95.42,526.50 L96.54,526.48 L97.65,526.47 L98.77,526.46 L99.89,526.44 L101.01,526.43 L102.13,526.41 L103.25,526.40 L104.37,526.39 L105.49,526.37 L106.60,526.36 L107.72,526.34 L108.84,526.33 L109.96,526.32 L111.08,526.30 L112.20,526.29 L113.32,526.27 L114.44,526.26 L115.55,526.24 L116.67,526.23 L117.79,526.21 L118.91,526.20 L120.03,526.18 L121.15,526.17 L122.27,526.15 L123.38,526.14 L124.50,526.12 L125.62,526.11 L126.74,526.09 L127.86,526.08 L128.98,526.06 L130.10,526.05 L131.22,526.03 L132.33,526.01 L133.45,526.00 L134.57,525.98 L135.69,525.97 L136.81,525.95 L137.93,525.93 L139.05,525.92 L140.17,525.90 L141.28,525.88 L142.40,525.87 L143.52,525.85 L144.64,525.83 L145.76,525.82 L146.88,525.80 L148.00,525.78 L149.11,525.76 L150.23,525.75 L151.35,525.73 L152.47,525.71 L153.59,525.69 L154.71,525.67 L155.83,525.66 L156.95,525.64 L158.06,525.62 L159.18,525.60 L160.30,525.58 L161.42,525.57 L162.54,525.55 L163.66,525.53 L164.78,525.51 L165.90,525.49 L167.01,525.47 L168.13,525.45 L169.25,525.43 L170.37,525.41 L171.49,525.39 L172.61,525.37 L173.73,525.35 L174.84,525.33 L175.96,525.31 L177.08,525.29 L178.20,525.27 L179.32,525.25 L180.44,525.23 L181.56,525.21 L182.68,525.19 L183.79,525.17 L184.91,525.15 L186.03,525.12 L187.15,525.10 L188.27,525.08 L189.39,525.06 L190.51,525.04 L191.63,525.02 L192.74,524.99 L193.86,524.97 L194.98,524.95 L196.10,524.93 L197.22,524.90 L198.34,524.88 L199.46,524.86 L200.57,524.83 L201.69,524.81 L202.81,524.79 L203.93,524.76 L205.05,524.74 L206.17,524.71 L207.29,524.69 L208.41,524.66 L209.52,524.64 L210.64,524.61 L211.76,524.59 L212.88,524.56 L214.00,524.54 L215.12,524.51 L216.24,524.49 L217.36,524.46 L218.47,524.43 L219.59,524.41 L220.71,524.38 L221.83,524.35 L222.95,524.33 L224.07,524.30 L225.19,524.27 L226.31,524.25 L227.42,524.22 L228.54,524.19 L229.66,524.16 L230.78,524.13 L231.90,524.10 L233.02,524.07 L234.14,524.05 L235.25,524.02 L236.37,523.99 L237.49,523.96 L238.61,523.93 L239.73,523.90 L240.85,523.87 L241.97,523.83 L243.09,523.80 L244.20,523.77 L245.32,523.74 L246.44,523.71 L247.56,523.68 L248.68,523.64 L249.80,523.61 L250.92,523.58 L252.04,523.55 L253.15,523.51 L254.27,523.48 L255.39,523.44 L256.51,523.41 L257.63,523.38 L258.75,523.34 L259.87,523.31 L260.98,523.27 L262.10,523.23 L263.22,523.20 L264.34,523.16 L265.46,523.13 L266.58,523.09 L267.70,523.05 L268.82,523.01 L269.93,522.97 L271.05,522.94 L272.17,522.90 L273.29,522.86 L274.41,522.82 L275.53,522.78 L276.65,522.74 L277.77,522.70 L278.88,522.66 L280.00,522.62 L281.12,522.58 L282.24,522.53 L283.36,522.49 L284.48,522.45 L285.60,522.40 L286.71,522.36 L287.83,522.32 L288.95,522.27 L290.07,522.23 L291.19,522.18 L292.31,522.14 L293.43,522.09 L294.55,522.04 L295.66,522.00 L296.78,521.95 L297.90,521.90 L299.02,521.85 L300.14,521.80 L301.26,521.75 L302.38,521.70 L303.50,521.65 L304.61,521.60 L305.73,521.55 L306.85,521.50 L307.97,521.44 L309.09,521.39 L310.21,521.34 L311.33,521.28 L312.44,521.23 L313.56,521.17 L314.68,521.12 L315.80,521.06 L316.92,521.00 L318.04,520.94 L319.16,520.88 L320.28,520.83 L321.39,520.77 L322.51,520.70 L323.63,520.64 L324.75,520.58 L325.87,520.52 L326.99,520.45 L328.11,520.39 L329.23,520.33 L330.34,520.26 L331.46,520.19 L332.58,520.13 L333.70,520.06 L334.82,519.99 L335.94,519.92 L337.06,519.85 L338.18,519.78 L339.29,519.70 L340.41,519.63 L341.53,519.56 L342.65,519.48 L343.77,519.41 L344.89,519.33 L346.01,519.25 L347.12,519.17 L348.24,519.09 L349.36,519.01 L350.48,518.93 L351.60,518.85 L352.72,518.76 L353.84,518.68 L354.96,518.59 L356.07,518.50 L357.19,518.41 L358.31,518.32 L359.43,518.23 L360.55,518.14 L361.67,518.04 L362.79,517.95 L363.91,517.85 L365.02,517.75 L366.14,517.65 L367.26,517.55 L368.38,517.45 L369.50,517.35 L370.62,517.24 L371.74,517.14 L372.85,517.03 L373.97,516.92 L375.09,516.80 L376.21,516.69 L377.33,516.58 L378.45,516.46 L379.57,516.34 L380.69,516.22 L381.80,516.10 L382.92,515.97 L384.04,515.84 L385.16,515.72 L386.28,515.58 L387.40,515.45 L388.52,515.32 L389.64,515.18 L390.75,515.04 L391.87,514.89 L392.99,514.75 L394.11,514.60 L395.23,514.45 L396.35,514.30 L397.47,514.14 L398.58,513.99 L399.70,513.82 L400.82,513.66 L401.94,513.49 L403.06,513.32 L404.18,513.15 L405.30,512.97 L406.42,512.79 L407.53,512.61 L408.65,512.42 L409.77,512.23 L410.89,512.03 L412.01,511.83 L413.13,511.63 L414.25,511.42 L415.37,511.21 L416.48,510.99 L417.60,510.77 L418.72,510.54 L419.84,510.31 L420.96,510.08 L422.08,509.83 L423.20,509.59 L424.31,509.33 L425.43,509.08 L426.55,508.81 L427.67,508.54 L428.79,508.26 L429.91,507.98 L431.03,507.69 L432.15,507.39 L433.26,507.08 L434.38,506.77 L435.50,506.45 L436.62,506.11 L437.74,505.78 L438.86,505.43 L439.98,505.07 L441.10,504.70 L442.21,504.32 L443.33,503.93 L444.45,503.53 L445.57,503.12 L446.69,502.69 L447.81,502.26 L448.93,501.80 L450.04,501.34 L451.16,500.86 L452.28,500.36 L453.40,499.85 L454.52,499.32 L455.64,498.78 L456.76,498.21 L457.88,497.63 L458.99,497.02 L460.11,496.39 L461.23,495.74 L462.35,495.06 L463.47,494.36 L464.59,493.63 L465.71,492.87 L466.83,492.08 L467.94,491.26 L469.06,490.40 L470.18,489.50 L471.30,488.57 L472.42,487.59 L473.54,486.57 L474.66,485.49 L475.78,484.37 L476.89,483.19 L478.01,481.95 L479.13,480.64 L480.25,479.26 L481.37,477.81 L482.49,476.27 L483.61,474.64 L484.72,472.92 L485.84,471.08 L486.96,469.13 L488.08,467.05 L489.20,464.82 L490.32,462.44 L491.44,459.87 L492.56,457.11 L493.67,454.13 L494.79,450.90 L495.91,447.39 L497.03,443.56 L498.15,439.36 L499.27,434.75 L500.39,429.65 L501.51,423.97 L502.62,417.64 L503.74,410.50 L504.86,402.42 L505.98,393.18" fill="none" stroke="#6c7f56" stroke-width="1.2"/>
<path d="M58.50,526.90 L59.62,526.86 L60.74,526.81 L61.86,526.77 L62.97,526.72 L64.09,526.68 L65.21,526.63 L66.33,526.59 L67.45,526.54 L68.57,526.49 L69.69,526.45 L70.81,526.40 L71.92,526.35 L73.04,526.31 L74.16,526.26 L75.28,526.21 L76.40,526.17 L77.52,526.12 L78.64,526.07 L79.76,526.02 L80.87,525.97 L81.99,525.93 L83.11,525.88 L84.23,525.83 L85.35,525.78 L86.47,525.73 L87.59,525.68 L88.70,525.63 L89.82,525.58 L90.94,525.53 L92.06,525.48 L93.18,525.43 L94.30,525.38 L95.42,525.32 L96.54,525.27 L97.65,525.22 L98.77,525.17 L99.89,525.12 L101.01,525.06 L102.13,525.01 L103.25,524.96 L104.37,524.90 L105.49,524.85 L106.60,524.80 L107.72,524.74 L108.84,524.69 L109.96,524.63 L111.08,524.58 L112.20,524.52 L113.32,524.47 L114.44,524.41 L115.55,524.35 L116.67,524.30 L117.79,524.24 L118.91,524.18 L120.03,524.13 L121.15,524.07 L122.27,524.01 L123.38,523.95 L124.50,523.89 L125.62,523.84 L126.74,523.78 L127.86,523.72 L128.98,523.66 L130.10,523.60 L131.22,523.54 L132.33,523.48 L133.45,523.41 L134.57,523.35 L135.69,523.29 L136.81,523.23 L137.93,523.17 L139.05,523.10 L140.17,523.04 L141.28,522.98 L142.40,522.91 L143.52,522.85 L144.64,522.79 L145.76,522.72 L146.88,522.66 L148.00,522.59 L149.11,522.52 L150.23,522.46 L151.35,522.39 L152.47,522.33 L153.59,522.26 L154.71,522.19 L155.83,522.12 L156.95,522.05 L158.06,521.99 L159.18,521.92 L160.30,521.85 L161.42,521.78 L162.54,521.71 L163.66,521.64 L164.78,521.56 L165.90,521.49 L167.01,521.42 L168.13,521.35 L169.25,521.28 L170.37,521.20 L171.49,521.13 L172.61,521.05 L173.73,520.98 L174.84,520.90 L175.96,520.83 L177.08,520.75 L178.20,520.68 L179.32,520.60 L180.44,520.52 L181.56,520.45 L182.68,520.37 L183.79,520.29 L184.91,520.21 L186.03,520.13 L187.15,520.05 L188.27,519.97 L189.39,519.89 L190.51,519.81 L191.63,519.73 L192.74,519.64 L193.86,519.56 L194.98,519.48 L196.10,519.39 L197.22,519.31 L198.34,519.22 L199.46,519.14 L200.57,519.05 L201.69,518.96 L202.81,518.88 L203.93,518.79 L205.05,518.70 L206.17,518.61 L207.29,518.52 L208.41,518.43 L209.52,518.34 L210.64,518.25 L211.76,518.16 L212.88,518.07 L214.00,517.97 L215.12,517.88 L216.24,517.79 L217.36,517.69 L218.47,517.60 L219.59,517.50 L220.71,517.40 L221.83,517.31 L222.95,517.21 L224.07,517.11 L225.19,517.01 L226.31,516.91 L227.42,516.81 L228.54,516.71 L229.66,516.60 L230.78,516.50 L231.90,516.40 L233.02,516.29 L234.14,516.19 L235.25,516.08 L236.37,515.98 L237.49,515.87 L238.61,515.76 L239.73,515.65 L240.85,515.54 L241.97,515.43 L243.09,515.32 L244.20,515.21 L245.32,515.10 L246.44,514.99 L247.56,514.87 L248.68,514.76 L249.80,514.64 L250.92,514.52 L252.04,514.41 L253.15,514.29 L254.27,514.17 L255.39,514.05 L256.51,513.93 L257.63,513.81 L258.75,513.68 L259.87,513.56 L260.98,513.43 L262.10,513.31 L263.22,513.18 L264.34,513.05 L265.46,512.93 L266.58,512.80 L267.70,512.66 L268.82,512.53 L269.93,512.40 L271.05,512.27 L272.17,512.13 L273.29,512.00 L274.41,511.86 L275.53,511.72 L276.65,511.58 L277.77,511.44 L278.88,511.30 L280.00,511.16 L281.12,511.02 L282.24,510.87 L283.36,510.72 L284.48,510.58 L285.60,510.43 L286.71,510.28 L287.83,510.13 L288.95,509.98 L290.07,509.82 L291.19,509.67 L292.31,509.51 L293.43,509.36 L294.55,509.20 L295.66,509.04 L296.78,508.88 L297.90,508.71 L299.02,508.55 L300.14,508.38 L301.26,508.22 L302.38,508.05 L303.50,507.88 L304.61,507.71 L305.73,507.53 L306.85,507.36 L307.97,507.18 L309.09,507.01 L310.21,506.83 L311.33,506.65 L312.44,506.46 L313.56,506.28 L314.68,506.09 L315.80,505.91 L316.92,505.72 L318.04,505.52 L319.16,505.33 L320.28,505.14 L321.39,504.94 L322.51,504.74 L323.63,504.54 L324.75,504.34 L325.87,504.14 L326.99,503.93 L328.11,503.72 L329.23,503.51 L330.34,503.30 L331.46,503.08 L332.58,502.87 L333.70,502.65 L334.82,502.43 L335.94,502.20 L337.06,501.98 L338.18,501.75 L339.29,501.52 L340.41,501.29 L341.53,501.05 L342.65,500.82 L343.77,500.58 L344.89,500.33 L346.01,500.09 L347.12,499.84 L348.24,499.59 L349.36,499.34 L350.48,499.08 L351.60,498.82 L352.72,498.56 L353.84,498.30 L354.96,498.03 L356.07,497.76 L357.19,497.49 L358.31,497.21 L359.43,496.93 L360.55,496.65 L361.67,496.37 L362.79,496.08 L363.91,495.79 L365.02,495.49 L366.14,495.19 L367.26,494.89 L368.38,494.58 L369.50,494.27 L370.62,493.96 L371.74,493.64 L372.85,493.32 L373.97,493.00 L375.09,492.67 L376.21,492.33 L377.33,492.00 L378.45,491.65 L379.57,491.31 L380.69,490.96 L381.80,490.60 L382.92,490.24 L384.04,489.88 L385.16,489.51 L386.28,489.14 L387.40,488.76 L388.52,488.38 L389.64,487.99 L390.75,487.60 L391.87,487.20 L392.99,486.79 L394.11,486.38 L395.23,485.97 L396.35,485.55 L397.47,485.12 L398.58,484.69 L399.70,484.25 L400.82,483.80 L401.94,483.35 L403.06,482.89 L404.18,482.43 L405.30,481.95 L406.42,481.47 L407.53,480.99 L408.65,480.49 L409.77,479.99 L410.89,479.48 L412.01,478.97 L413.13,478.44 L414.25,477.91 L415.37,477.37 L416.48,476.82 L417.60,476.26 L418.72,475.69 L419.84,475.12 L420.96,474.53 L422.08,473.93 L423.20,473.33 L424.31,472.71 L425.43,472.09 L426.55,471.45 L427.67,470.80 L428.79,470.14 L429.91,469.47 L431.03,468.79 L432.15,468.09 L433.26,467.38 L434.38,466.66 L435.50,465.93 L436.62,465.18 L437.74,464.42 L438.86,463.65 L439.98,462.86 L441.10,462.05 L442.21,461.23 L443.33,460.39 L444.45,459.54 L445.57,458.67 L446.69,457.78 L447.81,456.87 L448.93,455.95 L450.04,455.00 L451.16,454.04 L452.28,453.05 L453.40,452.04 L454.52,451.02 L455.64,449.96 L456.76,448.89 L457.88,447.79 L458.99,446.67 L460.11,445.52 L461.23,444.34 L462.35,443.14 L463.47,441.91 L464.59,440.64 L465.71,439.35 L466.83,438.03 L467.94,436.67 L469.06,435.28 L470.18,433.85 L471.30,432.38 L472.42,430.88 L473.54,429.34 L474.66,427.75 L475.78,426.12 L476.89,424.45 L478.01,422.72 L479.13,420.95 L480.25,419.13 L481.37,417.26 L482.49,415.32 L483.61,413.33 L484.72,411.28 L485.84,409.17 L486.96,406.98 L488.08,404.73 L489.20,402.40 L490.32,400.00 L491.44,397.51 L492.56,394.94 L493.67,392.27 L494.79,389.52 L495.91,386.66 L497.03,383.69 L498.15,380.62 L499.27,377.42 L500.39,374.10 L501.51,370.65 L502.62,367.06 L503.74,363.31 L504.86,359.41 L505.98,355.34" fill="none" stroke="#e08a22" stroke-width="1.2"/>
<path d="M58.50,526.90 L59.62,526.88 L60.74,526.86 L61.86,526.85 L62.97,526.83 L64.09,526.81 L65.21,526.79 L66.33,526.78 L67.45,526.76 L68.57,526.74 L69.69,526.72 L70.81,526.70 L71.92,526.68 L73.04,526.67 L74.16,526.65 L75.28,526.63 L76.40,526.61 L77.52,526.59 L78.64,526.57 L79.76,526.55 L80.87,526.53 L81.99,526.51 L83.11,526.49 L84.23,526.47 L85.35,526.45 L86.47,526.43 L87.59,526.42 L88.70,526.40 L89.82,526.38 L90.94,526.36 L92.06,526.33 L93.18,526.31 L94.30,526.29 L95.42,526.27 L96.54,526.25 L97.65,526.23 L98.77,526.21 L99.89,526.19 L101.01,526.17 L102.13,526.15 L103.25,526.13 L104.37,526.11 L105.49,526.08 L106.60,526.06 L107.72,526.04 L108.84,526.02 L109.96,526.00 L111.08,525.97 L112.20,525.95 L113.32,525.93 L114.44,525.91 L115.55,525.88 L116.67,525.86 L117.79,525.84 L118.91,525.82 L120.03,525.79 L121.15,525.77 L122.27,525.75 L123.38,525.72 L124.50,525.70 L125.62,525.68 L126.74,525.65 L127.86,525.63 L128.98,525.60 L130.10,525.58 L131.22,525.55 L132.33,525.53 L133.45,525.51 L134.57,525.48 L135.69,525.46 L136.81,525.43 L137.93,525.41 L139.05,525.38 L140.17,525.35 L141.28,525.33 L142.40,525.30 L143.52,525.28 L144.64,525.25 L145.76,525.22 L146.88,525.20 L148.00,525.17 L149.11,525.14 L150.23,525.12 L151.35,525.09 L152.47,525.06 L153.59,525.04 L154.71,525.01 L155.83,524.98 L156.95,524.95 L158.06,524.92 L159.18,524.90 L160.30,524.87 L161.42,524.84 L162.54,524.81 L163.66,524.78 L164.78,524.75 L165.90,524.72 L167.01,524.69 L168.13,524.66 L169.25,524.63 L170.37,524.60 L171.49,524.57 L172.61,524.54 L173.73,524.51 L174.84,524.48 L175.96,524.45 L177.08,524.42 L178.20,524.39 L179.32,524.36 L180.44,524.32 L181.56,524.29 L182.68,524.26 L183.79,524.23 L184.91,524.19 L186.03,524.16 L187.15,524.13 L188.27,524.10 L189.39,524.06 L190.51,524.03 L191.63,523.99 L192.74,523.96 L193.86,523.93 L194.98,523.89 L196.10,523.86 L197.22,523.82 L198.34,523.79 L199.46,523.75 L200.57,523.71 L201.69,523.68 L202.81,523.64 L203.93,523.61 L205.05,523.57 L206.17,523.53 L207.29,523.49 L208.41,523.46 L209.52,523.42 L210.64,523.38 L211.76,523.34 L212.88,523.30 L214.00,523.26 L215.12,523.22 L216.24,523.19 L217.36,523.15 L218.47,523.11 L219.59,523.07 L220.71,523.02 L221.83,522.98 L222.95,522.94 L224.07,522.90 L225.19,522.86 L226.31,522.82 L227.42,522.77 L228.54,522.73 L229.66,522.69 L230.78,522.64 L231.90,522.60 L233.02,522.56 L234.14,522.51 L235.25,522.47 L236.37,522.42 L237.49,522.38 L238.61,522.33 L239.73,522.28 L240.85,522.24 L241.97,522.19 L243.09,522.14 L244.20,522.10 L245.32,522.05 L246.44,522.00 L247.56,521.95 L248.68,521.90 L249.80,521.85 L250.92,521.80 L252.04,521.75 L253.15,521.70 L254.27,521.65 L255.39,521.60 L256.51,521.55 L257.63,521.49 L258.75,521.44 L259.87,521.39 L260.98,521.33 L262.10,521.28 L263.22,521.22 L264.34,521.17 L265.46,521.11 L266.58,521.06 L267.70,521.00 L268.82,520.94 L269.93,520.88 L271.05,520.83 L272.17,520.77 L273.29,520.71 L274.41,520.65 L275.53,520.59 L276.65,520.53 L277.77,520.47 L278.88,520.40 L280.00,520.34 L281.12,520.28 L282.24,520.22 L283.36,520.15 L284.48,520.09 L285.60,520.02 L286.71,519.96 L287.83,519.89 L288.95,519.82 L290.07,519.75 L291.19,519.69 L292.31,519.62 L293.43,519.55 L294.55,519.48 L295.66,519.41 L296.78,519.33 L297.90,519.26 L299.02,519.19 L300.14,519.11 L301.26,519.04 L302.38,518.96 L303.50,518.89 L304.61,518.81 L305.73,518.73 L306.85,518.65 L307.97,518.58 L309.09,518.50 L310.21,518.41 L311.33,518.33 L312.44,518.25 L313.56,518.17 L314.68,518.08 L315.80,518.00 L316.92,517.91 L318.04,517.82 L319.16,517.74 L320.28,517.65 L321.39,517.56 L322.51,517.47 L323.63,517.37 L324.75,517.28 L325.87,517.19 L326.99,517.09 L328.11,517.00 L329.23,516.90 L330.34,516.80 L331.46,516.70 L332.58,516.60 L333.70,516.50 L334.82,516.40 L335.94,516.29 L337.06,516.19 L338.18,516.08 L339.29,515.97 L340.41,515.87 L341.53,515.76 L342.65,515.64 L343.77,515.53 L344.89,515.42 L346.01,515.30 L347.12,515.18 L348.24,515.06 L349.36,514.94 L350.48,514.82 L351.60,514.70 L352.72,514.58 L353.84,514.45 L354.96,514.32 L356.07,514.19 L357.19,514.06 L358.31,513.93 L359.43,513.79 L360.55,513.66 L361.67,513.52 L362.79,513.38 L363.91,513.23 L365.02,513.09 L366.14,512.94 L367.26,512.80 L368.38,512.65 L369.50,512.49 L370.62,512.34 L371.74,512.18 L372.85,512.02 L373.97,511.86 L375.09,511.70 L376.21,511.53 L377.33,511.36 L378.45,511.19 L379.57,511.02 L380.69,510.84 L381.80,510.66 L382.92,510.48 L384.04,510.30 L385.16,510.11 L386.28,509.92 L387.40,509.72 L388.52,509.53 L389.64,509.33 L390.75,509.12 L391.87,508.92 L392.99,508.71 L394.11,508.49 L395.23,508.28 L396.35,508.06 L397.47,507.83 L398.58,507.60 L399.70,507.37 L400.82,507.13 L401.94,506.89 L403.06,506.65 L404.18,506.40 L405.30,506.15 L406.42,505.89 L407.53,505.62 L408.65,505.36 L409.77,505.08 L410.89,504.80 L412.01,504.52 L413.13,504.23 L414.25,503.93 L415.37,503.63 L416.48,503.33 L417.60,503.01 L418.72,502.69 L419.84,502.37 L420.96,502.03 L422.08,501.69 L423.20,501.35 L424.31,500.99 L425.43,500.63 L426.55,500.26 L427.67,499.88 L428.79,499.49 L429.91,499.09 L431.03,498.69 L432.15,498.27 L433.26,497.85 L434.38,497.41 L435.50,496.97 L436.62,496.51 L437.74,496.04 L438.86,495.56 L439.98,495.07 L441.10,494.57 L442.21,494.05 L443.33,493.52 L444.45,492.97 L445.57,492.41 L446.69,491.84 L447.81,491.25 L448.93,490.64 L450.04,490.01 L451.16,489.37 L452.28,488.70 L453.40,488.02 L454.52,487.32 L455.64,486.59 L456.76,485.84 L457.88,485.07 L458.99,484.27 L460.11,483.45 L461.23,482.60 L462.35,481.72 L463.47,480.80 L464.59,479.86 L465.71,478.88 L466.83,477.87 L467.94,476.82 L469.06,475.73 L470.18,474.60 L471.30,473.42 L472.42,472.19 L473.54,470.92 L474.66,469.59 L475.78,468.20 L476.89,466.76 L478.01,465.25 L479.13,463.67 L480.25,462.01 L481.37,460.28 L482.49,458.46 L483.61,456.55 L484.72,454.54 L485.84,452.42 L486.96,450.19 L488.08,447.83 L489.20,445.34 L490.32,442.69 L491.44,439.89 L492.56,436.91 L493.67,433.73 L494.79,430.34 L495.91,426.72 L497.03,422.83 L498.15,418.65 L499.27,414.14 L500.39,409.27 L501.51,403.99 L502.62,398.24 L503.74,391.96 L504.86,385.07 L505.98,377.47" fill="none" stroke="#80a0a6" stroke-width="1.2"/>
<path d="M58.50,526.90 L59.62,526.89 L60.74,526.88 L61.86,526.88 L62.97,526.87 L64.09,526.86 L65.21,526.85 L66.33,526.84 L67.45,526.83 L68.57,526.82 L69.69,526.82 L70.81,526.81 L71.92,526.80 L73.04,526.79 L74.16,526.78 L75.28,526.77 L76.40,526.76 L77.52,526.75 L78.64,526.75 L79.76,526.74 L80.87,526.73 L81.99,526.72 L83.11,526.71 L84.23,526.70 L85.35,526.69 L86.47,526.68 L87.59,526.67 L88.70,526.66 L89.82,526.65 L90.94,526.64 L92.06,526.64 L93.18,526.63 L94.30,526.62 L95.42,526.61 L96.54,526.60 L97.65,526.59 L98.77,526.58 L99.89,526.57 L101.01,526.56 L102.13,526.55 L103.25,526.54 L104.37,526.53 L105.49,526.52 L106.60,526.51 L107.72,526.50 L108.84,526.49 L109.96,526.48 L111.08,526.47 L112.20,526.46 L113.32,526.44 L114.44,526.43 L115.55,526.42 L116.67,526.41 L117.79,526.40 L118.91,526.39 L120.03,526.38 L121.15,526.37 L122.27,526.36 L123.38,526.35 L124.50,526.34 L125.62,526.33 L126.74,526.31 L127.86,526.30 L128.98,526.29 L130.10,526.28 L131.22,526.27 L132.33,526.26 L133.45,526.25 L134.57,526.23 L135.69,526.22 L136.81,526.21 L137.93,526.20 L139.05,526.19 L140.17,526.17 L141.28,526.16 L142.40,526.15 L143.52,526.14 L144.64,526.12 L145.76,526.11 L146.88,526.10 L148.00,526.09 L149.11,526.07 L150.23,526.06 L151.35,526.05 L152.47,526.04 L153.59,526.02 L154.71,526.01 L155.83,526.00 L156.95,525.98 L158.06,525.97 L159.18,525.96 L160.30,525.94 L161.42,525.93 L162.54,525.92 L163.66,525.90 L164.78,525.89 L165.90,525.88 L167.01,525.86 L168.13,525.85 L169.25,525.83 L170.37,525.82 L171.49,525.80 L172.61,525.79 L173.73,525.78 L174.84,525.76 L175.96,525.75 L177.08,525.73 L178.20,525.72 L179.32,525.70 L180.44,525.69 L181.56,525.67 L182.68,525.66 L183.79,525.64 L184.91,525.63 L186.03,525.61 L187.15,525.59 L188.27,525.58 L189.39,525.56 L190.51,525.55 L191.63,525.53 L192.74,525.51 L193.86,525.50 L194.98,525.48 L196.10,525.46 L197.22,525.45 L198.34,525.43 L199.46,525.41 L200.57,525.40 L201.69,525.38 L202.81,525.36 L203.93,525.34 L205.05,525.33 L206.17,525.31 L207.29,525.29 L208.41,525.27 L209.52,525.26 L210.64,525.24 L211.76,525.22 L212.88,525.20 L214.00,525.18 L215.12,525.16 L216.24,525.14 L217.36,525.13 L218.47,525.11 L219.59,525.09 L220.71,525.07 L221.83,525.05 L222.95,525.03 L224.07,525.01 L225.19,524.99 L226.31,524.97 L227.42,524.95 L228.54,524.93 L229.66,524.91 L230.78,524.89 L231.90,524.86 L233.02,524.84 L234.14,524.82 L235.25,524.80 L236.37,524.78 L237.49,524.76 L238.61,524.73 L239.73,524.71 L240.85,524.69 L241.97,524.67 L243.09,524.65 L244.20,524.62 L245.32,524.60 L246.44,524.58 L247.56,524.55 L248.68,524.53 L249.80,524.50 L250.92,524.48 L252.04,524.46 L253.15,524.43 L254.27,524.41 L255.39,524.38 L256.51,524.36 L257.63,524.33 L258.75,524.31 L259.87,524.28 L260.98,524.25 L262.10,524.23 L263.22,524.20 L264.34,524.18 L265.46,524.15 L266.58,524.12 L267.70,524.09 L268.82,524.07 L269.93,524.04 L271.05,524.01 L272.17,523.98 L273.29,523.95 L274.41,523.92 L275.53,523.89 L276.65,523.87 L277.77,523.84 L278.88,523.81 L280.00,523.78 L281.12,523.74 L282.24,523.71 L283.36,523.68 L284.48,523.65 L285.60,523.62 L286.71,523.59 L287.83,523.55 L288.95,523.52 L290.07,523.49 L291.19,523.46 L292.31,523.42 L293.43,523.39 L294.55,523.35 L295.66,523.32 L296.78,523.28 L297.90,523.25 L299.02,523.21 L300.14,523.18 L301.26,523.14 L302.38,523.10 L303.50,523.07 L304.61,523.03 L305.73,522.99 L306.85,522.95 L307.97,522.91 L309.09,522.87 L310.21,522.83 L311.33,522.79 L312.44,522.75 L313.56,522.71 L314.68,522.67 L315.80,522.63 L316.92,522.59 L318.04,522.54 L319.16,522.50 L320.28,522.46 L321.39,522.41 L322.51,522.37 L323.63,522.32 L324.75,522.28 L325.87,522.23 L326.99,522.18 L328.11,522.14 L329.23,522.09 L330.34,522.04 L331.46,521.99 L332.58,521.94 L333.70,521.89 L334.82,521.84 L335.94,521.79 L337.06,521.73 L338.18,521.68 L339.29,521.63 L340.41,521.57 L341.53,521.52 L342.65,521.46 L343.77,521.41 L344.89,521.35 L346.01,521.29 L347.12,521.23 L348.24,521.17 L349.36,521.11 L350.48,521.05 L351.60,520.99 L352.72,520.93 L353.84,520.87 L354.96,520.80 L356.07,520.74 L357.19,520.67 L358.31,520.60 L359.43,520.54 L360.55,520.47 L361.67,520.40 L362.79,520.33 L363.91,520.25 L365.02,520.18 L366.14,520.11 L367.26,520.03 L368.38,519.96 L369.50,519.88 L370.62,519.80 L371.74,519.72 L372.85,519.64 L373.97,519.56 L375.09,519.47 L376.21,519.39 L377.33,519.30 L378.45,519.21 L379.57,519.12 L380.69,519.03 L381.80,518.94 L382.92,518.85 L384.04,518.75 L385.16,518.66 L386.28,518.56 L387.40,518.46 L388.52,518.36 L389.64,518.25 L390.75,518.15 L391.87,518.04 L392.99,517.93 L394.11,517.82 L395.23,517.71 L396.35,517.59 L397.47,517.48 L398.58,517.36 L399.70,517.24 L400.82,517.11 L401.94,516.99 L403.06,516.86 L404.18,516.73 L405.30,516.59 L406.42,516.46 L407.53,516.32 L408.65,516.18 L409.77,516.03 L410.89,515.88 L412.01,515.73 L413.13,515.58 L414.25,515.42 L415.37,515.26 L416.48,515.09 L417.60,514.93 L418.72,514.75 L419.84,514.58 L420.96,514.40 L422.08,514.21 L423.20,514.03 L424.31,513.83 L425.43,513.64 L426.55,513.43 L427.67,513.23 L428.79,513.01 L429.91,512.80 L431.03,512.57 L432.15,512.34 L433.26,512.11 L434.38,511.87 L435.50,511.62 L436.62,511.36 L437.74,511.10 L438.86,510.83 L439.98,510.56 L441.10,510.27 L442.21,509.98 L443.33,509.68 L444.45,509.36 L445.57,509.04 L446.69,508.71 L447.81,508.37 L448.93,508.02 L450.04,507.66 L451.16,507.28 L452.28,506.89 L453.40,506.49 L454.52,506.08 L455.64,505.65 L456.76,505.20 L457.88,504.74 L458.99,504.26 L460.11,503.76 L461.23,503.24 L462.35,502.70 L463.47,502.14 L464.59,501.56 L465.71,500.95 L466.83,500.32 L467.94,499.65 L469.06,498.96 L470.18,498.24 L471.30,497.48 L472.42,496.68 L473.54,495.85 L474.66,494.97 L475.78,494.04 L476.89,493.07 L478.01,492.04 L479.13,490.96 L480.25,489.81 L481.37,488.59 L482.49,487.29 L483.61,485.92 L484.72,484.45 L485.84,482.88 L486.96,481.20 L488.08,479.39 L489.20,477.45 L490.32,475.35 L491.44,473.08 L492.56,470.62 L493.67,467.93 L494.79,464.99 L495.91,461.76 L497.03,458.19 L498.15,454.23 L499.27,449.81 L500.39,444.84 L501.51,439.22 L502.62,432.80 L503.74,425.42 L504.86,416.82 L505.98,406.69" fill="none" stroke="#b41c42" stroke-width="1.2"/>
<path d="M58.50,526.90 L59.62,526.89 L60.74,526.89 L61.86,526.88 L62.97,526.88 L64.09,526.87 L65.21,526.86 L66.33,526.86 L67.45,526.85 L68.57,526.84 L69.69,526.84 L70.81,526.83 L71.92,526.83 L73.04,526.82 L74.16,526.81 L75.28,526.81 L76.40,526.80 L77.52,526.79 L78.64,526.79 L79.76,526.78 L80.87,526.77 L81.99,526.77 L83.11,526.76 L84.23,526.75 L85.35,526.75 L86.47,526.74 L87.59,526.73 L88.70,526.73 L89.82,526.72 L90.94,526.71 L92.06,526.71 L93.18,526.70 L94.30,526.69 L95.42,526.68 L96.54,526.68 L97.65,526.67 L98.77,526.66 L99.89,526.66 L101.01,526.65 L102.13,526.64 L103.25,526.63 L104.37,526.63 L105.49,526.62 L106.60,526.61 L107.72,526.60 L108.84,526.60 L109.96,526.59 L111.08,526.58 L112.20,526.57 L113.32,526.56 L114.44,526.56 L115.55,526.55 L116.67,526.54 L117.79,526.53 L118.91,526.53 L120.03,526.52 L121.15,526.51 L122.27,526.50 L123.38,526.49 L124.50,526.49 L125.62,526.48 L126.74,526.47 L127.86,526.46 L128.98,526.45 L130.10,526.44 L131.22,526.43 L132.33,526.43 L133.45,526.42 L134.57,526.41 L135.69,526.40 L136.81,526.39 L137.93,526.38 L139.05,526.37 L140.17,526.37 L141.28,526.36 L142.40,526.35 L143.52,526.34 L144.64,526.33 L145.76,526.32 L146.88,526.31 L148.00,526.30 L149.11,526.29 L150.23,526.28 L151.35,526.27 L152.47,526.26 L153.59,526.25 L154.71,526.24 L155.83,526.23 L156.95,526.23 L158.06,526.22 L159.18,526.21 L160.30,526.20 L161.42,526.19 L162.54,526.18 L163.66,526.17 L164.78,526.16 L165.90,526.15 L167.01,526.13 L168.13,526.12 L169.25,526.11 L170.37,526.10 L171.49,526.09 L172.61,526.08 L173.73,526.07 L174.84,526.06 L175.96,526.05 L177.08,526.04 L178.20,526.03 L179.32,526.02 L180.44,526.01 L181.56,525.99 L182.68,525.98 L183.79,525.97 L184.91,525.96 L186.03,525.95 L187.15,525.94 L188.27,525.93 L189.39,525.91 L190.51,525.90 L191.63,525.89 L192.74,525.88 L193.86,525.87 L194.98,525.85 L196.10,525.84 L197.22,525.83 L198.34,525.82 L199.46,525.80 L200.57,525.79 L201.69,525.78 L202.81,525.77 L203.93,525.75 L205.05,525.74 L206.17,525.73 L207.29,525.71 L208.41,525.70 L209.52,525.69 L210.64,525.67 L211.76,525.66 L212.88,525.65 L214.00,525.63 L215.12,525.62 L216.24,525.61 L217.36,525.59 L218.47,525.58 L219.59,525.56 L220.71,525.55 L221.83,525.53 L222.95,525.52 L224.07,525.50 L225.19,525.49 L226.31,525.47 L227.42,525.46 L228.54,525.44 L229.66,525.43 L230.78,525.41 L231.90,525.40 L233.02,525.38 L234.14,525.37 L235.25,525.35 L236.37,525.33 L237.49,525.32 L238.61,525.30 L239.73,525.29 L240.85,525.27 L241.97,525.25 L243.09,525.24 L244.20,525.22 L245.32,525.20 L246.44,525.18 L247.56,525.17 L248.68,525.15 L249.80,525.13 L250.92,525.11 L252.04,525.10 L253.15,525.08 L254.27,525.06 L255.39,525.04 L256.51,525.02 L257.63,525.00 L258.75,524.99 L259.87,524.97 L260.98,524.95 L262.10,524.93 L263.22,524.91 L264.34,524.89 L265.46,524.87 L266.58,524.85 L267.70,524.83 L268.82,524.81 L269.93,524.79 L271.05,524.77 L272.17,524.74 L273.29,524.72 L274.41,524.70 L275.53,524.68 L276.65,524.66 L277.77,524.64 L278.88,524.61 L280.00,524.59 L281.12,524.57 L282.24,524.55 L283.36,524.52 L284.48,524.50 L285.60,524.48 L286.71,524.45 L287.83,524.43 L288.95,524.40 L290.07,524.38 L291.19,524.35 L292.31,524.33 L293.43,524.30 L294.55,524.28 L295.66,524.25 L296.78,524.23 L297.90,524.20 L299.02,524.17 L300.14,524.15 L301.26,524.12 L302.38,524.09 L303.50,524.06 L304.61,524.04 L305.73,524.01 L306.85,523.98 L307.97,523.95 L309.09,523.92 L310.21,523.89 L311.33,523.86 L312.44,523.83 L313.56,523.80 L314.68,523.77 L315.80,523.74 L316.92,523.71 L318.04,523.68 L319.16,523.64 L320.28,523.61 L321.39,523.58 L322.51,523.54 L323.63,523.51 L324.75,523.48 L325.87,523.44 L326.99,523.41 L328.11,523.37 L329.23,523.34 L330.34,523.30 L331.46,523.26 L332.58,523.23 L333.70,523.19 L334.82,523.15 L335.94,523.11 L337.06,523.07 L338.18,523.03 L339.29,522.99 L340.41,522.95 L341.53,522.91 L342.65,522.87 L343.77,522.83 L344.89,522.79 L346.01,522.74 L347.12,522.70 L348.24,522.65 L349.36,522.61 L350.48,522.56 L351.60,522.52 L352.72,522.47 L353.84,522.42 L354.96,522.38 L356.07,522.33 L357.19,522.28 L358.31,522.23 L359.43,522.18 L360.55,522.12 L361.67,522.07 L362.79,522.02 L363.91,521.96 L365.02,521.91 L366.14,521.85 L367.26,521.80 L368.38,521.74 L369.50,521.68 L370.62,521.62 L371.74,521.56 L372.85,521.50 L373.97,521.44 L375.09,521.38 L376.21,521.32 L377.33,521.25 L378.45,521.18 L379.57,521.12 L380.69,521.05 L381.80,520.98 L382.92,520.91 L384.04,520.84 L385.16,520.77 L386.28,520.69 L387.40,520.62 L388.52,520.54 L389.64,520.46 L390.75,520.38 L391.87,520.30 L392.99,520.22 L394.11,520.14 L395.23,520.05 L396.35,519.96 L397.47,519.88 L398.58,519.79 L399.70,519.69 L400.82,519.60 L401.94,519.51 L403.06,519.41 L404.18,519.31 L405.30,519.21 L406.42,519.10 L407.53,519.00 L408.65,518.89 L409.77,518.78 L410.89,518.67 L412.01,518.55 L413.13,518.44 L414.25,518.32 L415.37,518.20 L416.48,518.07 L417.60,517.94 L418.72,517.81 L419.84,517.68 L420.96,517.54 L422.08,517.40 L423.20,517.26 L424.31,517.11 L425.43,516.96 L426.55,516.80 L427.67,516.65 L428.79,516.48 L429.91,516.32 L431.03,516.15 L432.15,515.97 L433.26,515.79 L434.38,515.60 L435.50,515.41 L436.62,515.22 L437.74,515.02 L438.86,514.81 L439.98,514.60 L441.10,514.38 L442.21,514.15 L443.33,513.92 L444.45,513.68 L445.57,513.43 L446.69,513.17 L447.81,512.91 L448.93,512.64 L450.04,512.35 L451.16,512.06 L452.28,511.76 L453.40,511.45 L454.52,511.12 L455.64,510.79 L456.76,510.44 L457.88,510.08 L458.99,509.70 L460.11,509.31 L461.23,508.90 L462.35,508.48 L463.47,508.04 L464.59,507.58 L465.71,507.10 L466.83,506.59 L467.94,506.07 L469.06,505.52 L470.18,504.94 L471.30,504.33 L472.42,503.69 L473.54,503.02 L474.66,502.32 L475.78,501.57 L476.89,500.78 L478.01,499.95 L479.13,499.07 L480.25,498.13 L481.37,497.13 L482.49,496.06 L483.61,494.93 L484.72,493.71 L485.84,492.40 L486.96,491.00 L488.08,489.48 L489.20,487.84 L490.32,486.05 L491.44,484.11 L492.56,481.98 L493.67,479.64 L494.79,477.06 L495.91,474.20 L497.03,471.01 L498.15,467.43 L499.27,463.37 L500.39,458.75 L501.51,453.43 L502.62,447.25 L503.74,439.97 L504.86,431.27 L505.98,420.70" fill="none" stroke="#9c98d2" stroke-width="1.2"/>
<path d="M58.50,526.90 L59.62,526.86 L60.74,526.81 L61.86,526.77 L62.97,526.73 L64.09,526.68 L65.21,526.64 L66.33,526.59 L67.45,526.55 L68.57,526.50 L69.69,526.46 L70.81,526.41 L71.92,526.37 L73.04,526.32 L74.16,526.27 L75.28,526.23 L76.40,526.18 L77.52,526.14 L78.64,526.09 L79.76,526.04 L80.87,525.99 L81.99,525.95 L83.11,525.90 L84.23,525.85 L85.35,525.80 L86.47,525.75 L87.59,525.71 L88.70,525.66 L89.82,525.61 L90.94,525.56 L92.06,525.51 L93.18,525.46 L94.30,525.41 L95.42,525.36 L96.54,525.31 L97.65,525.26 L98.77,525.21 L99.89,525.15 L101.01,525.10 L102.13,525.05 L103.25,525.00 L104.37,524.95 L105.49,524.89 L106.60,524.84 L107.72,524.79 L108.84,524.73 L109.96,524.68 L111.08,524.63 L112.20,524.57 L113.32,524.52 L114.44,524.46 L115.55,524.41 L116.67,524.35 L117.79,524.30 L118.91,524.24 L120.03,524.18 L121.15,524.13 L122.27,524.07 L123.38,524.01 L124.50,523.96 L125.62,523.90 L126.74,523.84 L127.86,523.78 L128.98,523.72 L130.10,523.67 L131.22,523.61 L132.33,523.55 L133.45,523.49 L134.57,523.43 L135.69,523.37 L136.81,523.31 L137.93,523.25 L139.05,523.18 L140.17,523.12 L141.28,523.06 L142.40,523.00 L143.52,522.93 L144.64,522.87 L145.76,522.81 L146.88,522.74 L148.00,522.68 L149.11,522.62 L150.23,522.55 L151.35,522.49 L152.47,522.42 L153.59,522.35 L154.71,522.29 L155.83,522.22 L156.95,522.15 L158.06,522.09 L159.18,522.02 L160.30,521.95 L161.42,521.88 L162.54,521.81 L163.66,521.74 L164.78,521.67 L165.90,521.60 L167.01,521.53 L168.13,521.46 L169.25,521.39 L170.37,521.32 L171.49,521.25 L172.61,521.17 L173.73,521.10 L174.84,521.03 L175.96,520.95 L177.08,520.88 L178.20,520.81 L179.32,520.73 L180.44,520.65 L181.56,520.58 L182.68,520.50 L183.79,520.42 L184.91,520.35 L186.03,520.27 L187.15,520.19 L188.27,520.11 L189.39,520.03 L190.51,519.95 L191.63,519.87 L192.74,519.79 L193.86,519.71 L194.98,519.63 L196.10,519.55 L197.22,519.46 L198.34,519.38 L199.46,519.30 L200.57,519.21 L201.69,519.13 L202.81,519.04 L203.93,518.95 L205.05,518.87 L206.17,518.78 L207.29,518.69 L208.41,518.60 L209.52,518.52 L210.64,518.43 L211.76,518.34 L212.88,518.25 L214.00,518.15 L215.12,518.06 L216.24,517.97 L217.36,517.88 L218.47,517.78 L219.59,517.69 L220.71,517.59 L221.83,517.50 L222.95,517.40 L224.07,517.31 L225.19,517.21 L226.31,517.11 L227.42,517.01 L228.54,516.91 L229.66,516.81 L230.78,516.71 L231.90,516.61 L233.02,516.51 L234.14,516.40 L235.25,516.30 L236.37,516.20 L237.49,516.09 L238.61,515.99 L239.73,515.88 L240.85,515.77 L241.97,515.66 L243.09,515.55 L244.20,515.45 L245.32,515.33 L246.44,515.22 L247.56,515.11 L248.68,515.00 L249.80,514.88 L250.92,514.77 L252.04,514.65 L253.15,514.54 L254.27,514.42 L255.39,514.30 L256.51,514.18 L257.63,514.06 L258.75,513.94 L259.87,513.82 L260.98,513.70 L262.10,513.58 L263.22,513.45 L264.34,513.33 L265.46,513.20 L266.58,513.07 L267.70,512.95 L268.82,512.82 L269.93,512.69 L271.05,512.55 L272.17,512.42 L273.29,512.29 L274.41,512.15 L275.53,512.02 L276.65,511.88 L277.77,511.75 L278.88,511.61 L280.00,511.47 L281.12,511.33 L282.24,511.18 L283.36,511.04 L284.48,510.90 L285.60,510.75 L286.71,510.60 L287.83,510.45 L288.95,510.31 L290.07,510.15 L291.19,510.00 L292.31,509.85 L293.43,509.70 L294.55,509.54 L295.66,509.38 L296.78,509.22 L297.90,509.06 L299.02,508.90 L300.14,508.74 L301.26,508.58 L302.38,508.41 L303.50,508.24 L304.61,508.07 L305.73,507.90 L306.85,507.73 L307.97,507.56 L309.09,507.39 L310.21,507.21 L311.33,507.03 L312.44,506.85 L313.56,506.67 L314.68,506.49 L315.80,506.30 L316.92,506.12 L318.04,505.93 L319.16,505.74 L320.28,505.55 L321.39,505.35 L322.51,505.16 L323.63,504.96 L324.75,504.76 L325.87,504.56 L326.99,504.36 L328.11,504.15 L329.23,503.95 L330.34,503.74 L331.46,503.53 L332.58,503.31 L333.70,503.10 L334.82,502.88 L335.94,502.66 L337.06,502.44 L338.18,502.22 L339.29,501.99 L340.41,501.76 L341.53,501.53 L342.65,501.30 L343.77,501.06 L344.89,500.82 L346.01,500.58 L347.12,500.34 L348.24,500.09 L349.36,499.84 L350.48,499.59 L351.60,499.34 L352.72,499.08 L353.84,498.82 L354.96,498.55 L356.07,498.29 L357.19,498.02 L358.31,497.75 L359.43,497.47 L360.55,497.19 L361.67,496.91 L362.79,496.63 L363.91,496.34 L365.02,496.05 L366.14,495.75 L367.26,495.46 L368.38,495.15 L369.50,494.85 L370.62,494.54 L371.74,494.23 L372.85,493.91 L373.97,493.59 L375.09,493.27 L376.21,492.94 L377.33,492.60 L378.45,492.27 L379.57,491.93 L380.69,491.58 L381.80,491.23 L382.92,490.88 L384.04,490.52 L385.16,490.15 L386.28,489.79 L387.40,489.41 L388.52,489.03 L389.64,488.65 L390.75,488.26 L391.87,487.87 L392.99,487.47 L394.11,487.06 L395.23,486.65 L396.35,486.24 L397.47,485.82 L398.58,485.39 L399.70,484.95 L400.82,484.51 L401.94,484.07 L403.06,483.61 L404.18,483.15 L405.30,482.69 L406.42,482.21 L407.53,481.73 L408.65,481.24 L409.77,480.75 L410.89,480.25 L412.01,479.73 L413.13,479.22 L414.25,478.69 L415.37,478.15 L416.48,477.61 L417.60,477.06 L418.72,476.49 L419.84,475.92 L420.96,475.34 L422.08,474.75 L423.20,474.15 L424.31,473.54 L425.43,472.92 L426.55,472.29 L427.67,471.65 L428.79,470.99 L429.91,470.33 L431.03,469.65 L432.15,468.96 L433.26,468.26 L434.38,467.55 L435.50,466.82 L436.62,466.08 L437.74,465.32 L438.86,464.55 L439.98,463.77 L441.10,462.97 L442.21,462.15 L443.33,461.32 L444.45,460.47 L445.57,459.60 L446.69,458.72 L447.81,457.82 L448.93,456.90 L450.04,455.96 L451.16,455.00 L452.28,454.02 L453.40,453.02 L454.52,451.99 L455.64,450.95 L456.76,449.88 L457.88,448.78 L458.99,447.66 L460.11,446.52 L461.23,445.35 L462.35,444.14 L463.47,442.92 L464.59,441.66 L465.71,440.37 L466.83,439.04 L467.94,437.69 L469.06,436.30 L470.18,434.87 L471.30,433.40 L472.42,431.90 L473.54,430.36 L474.66,428.77 L475.78,427.14 L476.89,425.46 L478.01,423.74 L479.13,421.96 L480.25,420.14 L481.37,418.25 L482.49,416.32 L483.61,414.32 L484.72,412.26 L485.84,410.13 L486.96,407.94 L488.08,405.67 L489.20,403.33 L490.32,400.91 L491.44,398.40 L492.56,395.81 L493.67,393.12 L494.79,390.34 L495.91,387.45 L497.03,384.46 L498.15,381.35 L499.27,378.11 L500.39,374.75 L501.51,371.25 L502.62,367.61 L503.74,363.81 L504.86,359.84 L505.98,355.70" fill="none" stroke="#c8c390" stroke-width="1.2"/>
<path d="M58.50,526.90 L59.62,526.89 L60.74,526.89 L61.86,526.88 L62.97,526.88 L64.09,526.87 L65.21,526.86 L66.33,526.86 L67.45,526.85 L68.57,526.84 L69.69,526.84 L70.81,526.83 L71.92,526.82 L73.04,526.82 L74.16,526.81 L75.28,526.80 L76.40,526.80 L77.52,526.79 L78.64,526.78 L79.76,526.78 L80.87,526.77 L81.99,526.76 L83.11,526.76 L84.23,526.75 L85.35,526.74 L86.47,526.74 L87.59,526.73 L88.70,526.72 L89.82,526.72 L90.94,526.71 L92.06,526.70 L93.18,526.69 L94.30,526.69 L95.42,526.68 L96.54,526.67 L97.65,526.67 L98.77,526.66 L99.89,526.65 L101.01,526.64 L102.13,526.64 L103.25,526.63 L104.37,526.62 L105.49,526.61 L106.60,526.61 L107.72,526.60 L108.84,526.59 L109.96,526.58 L111.08,526.58 L112.20,526.57 L113.32,526.56 L114.44,526.55 L115.55,526.54 L116.67,526.54 L117.79,526.53 L118.91,526.52 L120.03,526.51 L121.15,526.50 L122.27,526.50 L123.38,526.49 L124.50,526.48 L125.62,526.47 L126.74,526.46 L127.86,526.45 L128.98,526.44 L130.10,526.44 L131.22,526.43 L132.33,526.42 L133.45,526.41 L134.57,526.40 L135.69,526.39 L136.81,526.38 L137.93,526.37 L139.05,526.37 L140.17,526.36 L141.28,526.35 L142.40,526.34 L143.52,526.33 L144.64,526.32 L145.76,526.31 L146.88,526.30 L148.00,526.29 L149.11,526.28 L150.23,526.27 L151.35,526.26 L152.47,526.25 L153.59,526.24 L154.71,526.23 L155.83,526.22 L156.95,526.21 L158.06,526.20 L159.18,526.19 L160.30,526.18 L161.42,526.17 L162.54,526.16 L163.66,526.15 L164.78,526.14 L165.90,526.13 L167.01,526.12 L168.13,526.11 L169.25,526.10 L170.37,526.09 L171.49,526.08 L172.61,526.07 L173.73,526.06 L174.84,526.05 L175.96,526.04 L177.08,526.03 L178.20,526.01 L179.32,526.00 L180.44,525.99 L181.56,525.98 L182.68,525.97 L183.79,525.96 L184.91,525.95 L186.03,525.93 L187.15,525.92 L188.27,525.91 L189.39,525.90 L190.51,525.89 L191.63,525.87 L192.74,525.86 L193.86,525.85 L194.98,525.84 L196.10,525.83 L197.22,525.81 L198.34,525.80 L199.46,525.79 L200.57,525.77 L201.69,525.76 L202.81,525.75 L203.93,525.74 L205.05,525.72 L206.17,525.71 L207.29,525.70 L208.41,525.68 L209.52,525.67 L210.64,525.65 L211.76,525.64 L212.88,525.63 L214.00,525.61 L215.12,525.60 L216.24,525.59 L217.36,525.57 L218.47,525.56 L219.59,525.54 L220.71,525.53 L221.83,525.51 L222.95,525.50 L224.07,525.48 L225.19,525.47 L226.31,525.45 L227.42,525.44 L228.54,525.42 L229.66,525.41 L230.78,525.39 L231.90,525.38 L233.02,525.36 L234.14,525.34 L235.25,525.33 L236.37,525.31 L237.49,525.29 L238.61,525.28 L239.73,525.26 L240.85,525.24 L241.97,525.23 L243.09,525.21 L244.20,525.19 L245.32,525.18 L246.44,525.16 L247.56,525.14 L248.68,525.12 L249.80,525.10 L250.92,525.09 L252.04,525.07 L253.15,525.05 L254.27,525.03 L255.39,525.01 L256.51,524.99 L257.63,524.97 L258.75,524.96 L259.87,524.94 L260.98,524.92 L262.10,524.90 L263.22,524.88 L264.34,524.86 L265.46,524.84 L266.58,524.82 L267.70,524.80 L268.82,524.77 L269.93,524.75 L271.05,524.73 L272.17,524.71 L273.29,524.69 L274.41,524.67 L275.53,524.65 L276.65,524.62 L277.77,524.60 L278.88,524.58 L280.00,524.56 L281.12,524.53 L282.24,524.51 L283.36,524.49 L284.48,524.46 L285.60,524.44 L286.71,524.41 L287.83,524.39 L288.95,524.37 L290.07,524.34 L291.19,524.31 L292.31,524.29 L293.43,524.26 L294.55,524.24 L295.66,524.21 L296.78,524.19 L297.90,524.16 L299.02,524.13 L300.14,524.10 L301.26,524.08 L302.38,524.05 L303.50,524.02 L304.61,523.99 L305.73,523.96 L306.85,523.93 L307.97,523.91 L309.09,523.88 L310.21,523.85 L311.33,523.82 L312.44,523.78 L313.56,523.75 L314.68,523.72 L315.80,523.69 L316.92,523.66 L318.04,523.63 L319.16,523.59 L320.28,523.56 L321.39,523.53 L322.51,523.49 L323.63,523.46 L324.75,523.42 L325.87,523.39 L326.99,523.35 L328.11,523.32 L329.23,523.28 L330.34,523.24 L331.46,523.21 L332.58,523.17 L333.70,523.13 L334.82,523.09 L335.94,523.05 L337.06,523.01 L338.18,522.97 L339.29,522.93 L340.41,522.89 L341.53,522.85 L342.65,522.81 L343.77,522.77 L344.89,522.72 L346.01,522.68 L347.12,522.63 L348.24,522.59 L349.36,522.54 L350.48,522.50 L351.60,522.45 L352.72,522.40 L353.84,522.36 L354.96,522.31 L356.07,522.26 L357.19,522.21 L358.31,522.16 L359.43,522.10 L360.55,522.05 L361.67,522.00 L362.79,521.94 L363.91,521.89 L365.02,521.83 L366.14,521.78 L367.26,521.72 L368.38,521.66 L369.50,521.60 L370.62,521.54 L371.74,521.48 L372.85,521.42 L373.97,521.36 L375.09,521.30 L376.21,521.23 L377.33,521.16 L378.45,521.10 L379.57,521.03 L380.69,520.96 L381.80,520.89 L382.92,520.82 L384.04,520.75 L385.16,520.67 L386.28,520.60 L387.40,520.52 L388.52,520.44 L389.64,520.37 L390.75,520.29 L391.87,520.20 L392.99,520.12 L394.11,520.04 L395.23,519.95 L396.35,519.86 L397.47,519.77 L398.58,519.68 L399.70,519.59 L400.82,519.49 L401.94,519.39 L403.06,519.30 L404.18,519.20 L405.30,519.09 L406.42,518.99 L407.53,518.88 L408.65,518.77 L409.77,518.66 L410.89,518.55 L412.01,518.43 L413.13,518.31 L414.25,518.19 L415.37,518.07 L416.48,517.94 L417.60,517.81 L418.72,517.68 L419.84,517.54 L420.96,517.40 L422.08,517.26 L423.20,517.11 L424.31,516.96 L425.43,516.81 L426.55,516.65 L427.67,516.49 L428.79,516.33 L429.91,516.16 L431.03,515.99 L432.15,515.81 L433.26,515.63 L434.38,515.44 L435.50,515.25 L436.62,515.05 L437.74,514.84 L438.86,514.63 L439.98,514.42 L441.10,514.19 L442.21,513.97 L443.33,513.73 L444.45,513.49 L445.57,513.23 L446.69,512.98 L447.81,512.71 L448.93,512.43 L450.04,512.15 L451.16,511.85 L452.28,511.54 L453.40,511.23 L454.52,510.90 L455.64,510.56 L456.76,510.20 L457.88,509.84 L458.99,509.46 L460.11,509.06 L461.23,508.65 L462.35,508.22 L463.47,507.77 L464.59,507.31 L465.71,506.82 L466.83,506.31 L467.94,505.78 L469.06,505.22 L470.18,504.63 L471.30,504.02 L472.42,503.38 L473.54,502.70 L474.66,501.98 L475.78,501.23 L476.89,500.43 L478.01,499.59 L479.13,498.70 L480.25,497.75 L481.37,496.74 L482.49,495.66 L483.61,494.51 L484.72,493.28 L485.84,491.96 L486.96,490.54 L488.08,489.01 L489.20,487.35 L490.32,485.55 L491.44,483.59 L492.56,481.45 L493.67,479.09 L494.79,476.49 L495.91,473.61 L497.03,470.40 L498.15,466.79 L499.27,462.72 L500.39,458.07 L501.51,452.73 L502.62,446.53 L503.74,439.24 L504.86,430.54 L505.98,419.98" fill="none" stroke="#94705e" stroke-width="1.2"/>
<line x1="50.5" x2="50.5" y1="328.40" y2="535.40" stroke="#222" stroke-width="1.1"/>
<line x1="50" x2="519" y1="534.90" y2="534.90" stroke="#222" stroke-width="1.1"/>
<line x1="45" x2="50.5" y1="526.90" y2="526.90" stroke="#222" stroke-width="1.1"/>
<text transform="translate(35.70,528.10) scale(1,1.0)" text-anchor="middle" class="t">0</text>
<line x1="58.50" x2="58.50" y1="534.90" y2="540.10" stroke="#222" stroke-width="1.1"/>
<text transform="translate(58.50,556.30) scale(1,1.0)" text-anchor="middle" class="t">0</text>
<line x1="45" x2="50.5" y1="488.90" y2="488.90" stroke="#222" stroke-width="1.1"/>
<text transform="translate(35.70,490.10) scale(1,1.0)" text-anchor="middle" class="t">.2</text>
<line x1="148.90" x2="148.90" y1="534.90" y2="540.10" stroke="#222" stroke-width="1.1"/>
<text transform="translate(148.90,556.30) scale(1,1.0)" text-anchor="middle" class="t">.2</text>
<line x1="45" x2="50.5" y1="450.90" y2="450.90" stroke="#222" stroke-width="1.1"/>
<text transform="translate(35.70,452.10) scale(1,1.0)" text-anchor="middle" class="t">.4</text>
<line x1="239.30" x2="239.30" y1="534.90" y2="540.10" stroke="#222" stroke-width="1.1"/>
<text transform="translate(239.30,556.30) scale(1,1.0)" text-anchor="middle" class="t">.4</text>
<line x1="45" x2="50.5" y1="412.90" y2="412.90" stroke="#222" stroke-width="1.1"/>
<text transform="translate(35.70,414.10) scale(1,1.0)" text-anchor="middle" class="t">.6</text>
<line x1="329.70" x2="329.70" y1="534.90" y2="540.10" stroke="#222" stroke-width="1.1"/>
<text transform="translate(329.70,556.30) scale(1,1.0)" text-anchor="middle" class="t">.6</text>
<line x1="45" x2="50.5" y1="374.90" y2="374.90" stroke="#222" stroke-width="1.1"/>
<text transform="translate(35.70,376.10) scale(1,1.0)" text-anchor="middle" class="t">.8</text>
<line x1="420.10" x2="420.10" y1="534.90" y2="540.10" stroke="#222" stroke-width="1.1"/>
<text transform="translate(420.10,556.30) scale(1,1.0)" text-anchor="middle" class="t">.8</text>
<line x1="45" x2="50.5" y1="336.90" y2="336.90" stroke="#222" stroke-width="1.1"/>
<path d="M763 0L583 0L583 1147C540 1106 483 1064 413 1023C343 982 280 951 223 930L223 1104C324 1151 412 1209 487 1276C562 1343 616 1409 647 1472L763 1472Z" transform="translate(32.224,338.100) scale(0.006104,-0.006104)" fill="#1a1a1a" stroke="#1a1a1a" stroke-width="24.6"/>
<line x1="510.50" x2="510.50" y1="534.90" y2="540.10" stroke="#222" stroke-width="1.1"/>
<path d="M763 0L583 0L583 1147C540 1106 483 1064 413 1023C343 982 280 951 223 930L223 1104C324 1151 412 1209 487 1276C562 1343 616 1409 647 1472L763 1472Z" transform="translate(507.024,556.300) scale(0.006104,-0.006104)" fill="#1a1a1a" stroke="#1a1a1a" stroke-width="24.6"/>
<text transform="translate(271.6,315.90) scale(1,1.0)" text-anchor="middle" class="ti">Test negative</text>
<text transform="translate(272,574.90) scale(1,1.0)" text-anchor="middle" class="ax">Pre-test probability</text>
<text x="0" y="0" transform="translate(10.0,431.20) rotate(-90)" text-anchor="middle" class="ax">Post-test probability</text>
<line x1="111.8" x2="161.5" y1="358.80" y2="358.80" stroke="#e08a22" stroke-width="1.2"/>
<text transform="translate(175.7,361.70) scale(1,1.0)" class="lg">IgG-specific ELISA, intermediate threshold</text>
<line x1="111.8" x2="161.5" y1="371.90" y2="371.90" stroke="#c8c390" stroke-width="1.2"/>
<text transform="translate(175.7,375.11) scale(1,1.0)" class="lg">Polyspecific CLIA, high threshold</text>
<line x1="111.8" x2="161.5" y1="384.80" y2="384.80" stroke="#2c4d6c" stroke-width="1.2"/>
<text transform="translate(175.7,388.52) scale(1,1.0)" class="lg">Polyspecific ELISA, low threshold</text>
<line x1="111.8" x2="161.5" y1="397.90" y2="397.90" stroke="#80a0a6" stroke-width="1.2"/>
<text transform="translate(175.7,401.93) scale(1,1.0)" class="lg">PaGIA</text>
<line x1="111.8" x2="161.5" y1="410.70" y2="410.70" stroke="#6c7f56" stroke-width="1.2"/>
<text transform="translate(175.7,415.34) scale(1,1.0)" class="lg">IgG-specific ELISA, low threshold</text>
<line x1="111.8" x2="161.5" y1="425.20" y2="425.20" stroke="#7e3846" stroke-width="1.2"/>
<text transform="translate(175.7,428.75) scale(1,1.0)" class="lg">Polyspecific ELISA, intermediate threshold</text>
<line x1="111.8" x2="161.5" y1="439.30" y2="439.30" stroke="#b41c42" stroke-width="1.2"/>
<text transform="translate(175.7,442.16) scale(1,1.0)" class="lg">Lateral flow immunoassay</text>
<line x1="111.8" x2="161.5" y1="451.60" y2="451.60" stroke="#94705e" stroke-width="1.2"/>
<text transform="translate(175.7,455.57) scale(1,1.0)" class="lg">IgG-specific CLIA, low threshold</text>
<line x1="111.8" x2="161.5" y1="465.40" y2="465.40" stroke="#9c98d2" stroke-width="1.2"/>
<text transform="translate(175.7,468.98) scale(1,1.0)" class="lg">Polyspecific CLIA, low threshold</text>
</svg>
</body></html>
